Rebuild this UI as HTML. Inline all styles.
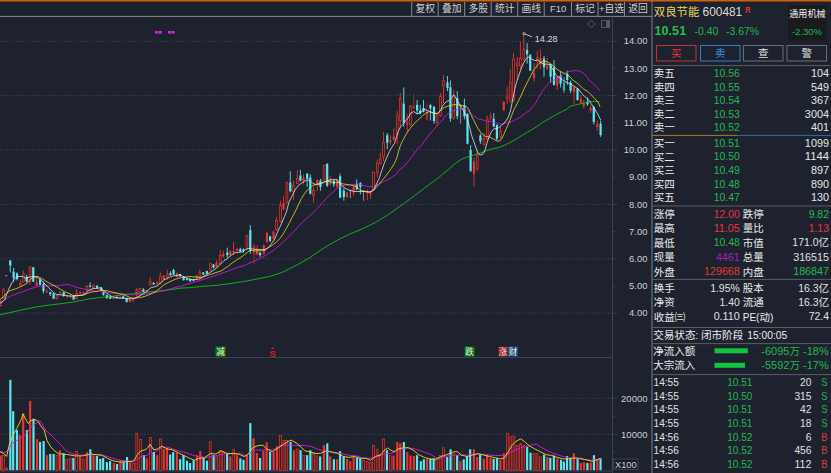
<!DOCTYPE html>
<html><head><meta charset="utf-8"><title>chart</title>
<style>html,body{margin:0;padding:0;background:#1d222e;overflow:hidden}svg{display:block}text{font-family:"Liberation Sans","Noto Sans CJK SC",sans-serif}</style>
</head><body>
<svg width="831" height="473" viewBox="0 0 831 473">
<defs>
<clipPath id="cc"><rect x="0" y="16" width="611.5" height="457"/></clipPath>
</defs>
<rect width="831" height="473" fill="#1d222e"/>
<rect x="0.00" y="0.00" width="831.00" height="1.50" fill="#d2600a"/>
<line x1="0.00" y1="16.40" x2="652.00" y2="16.40" stroke="#8a8a8a" stroke-width="1"/>
<line x1="411.70" y1="2.00" x2="411.70" y2="16.00" stroke="#8a8a8a" stroke-width="1"/>
<line x1="438.20" y1="2.00" x2="438.20" y2="16.00" stroke="#8a8a8a" stroke-width="1"/>
<line x1="464.70" y1="2.00" x2="464.70" y2="16.00" stroke="#8a8a8a" stroke-width="1"/>
<line x1="491.20" y1="2.00" x2="491.20" y2="16.00" stroke="#8a8a8a" stroke-width="1"/>
<line x1="517.70" y1="2.00" x2="517.70" y2="16.00" stroke="#8a8a8a" stroke-width="1"/>
<line x1="544.20" y1="2.00" x2="544.20" y2="16.00" stroke="#8a8a8a" stroke-width="1"/>
<line x1="571.50" y1="2.00" x2="571.50" y2="16.00" stroke="#8a8a8a" stroke-width="1"/>
<line x1="598.00" y1="2.00" x2="598.00" y2="16.00" stroke="#8a8a8a" stroke-width="1"/>
<line x1="624.50" y1="2.00" x2="624.50" y2="16.00" stroke="#8a8a8a" stroke-width="1"/>
<text x="415.45" y="11.80" font-size="9.80" fill="#d0d0d0">复权</text>
<text x="441.95" y="11.80" font-size="9.80" fill="#d0d0d0">叠加</text>
<text x="468.45" y="11.80" font-size="9.80" fill="#d0d0d0">多股</text>
<text x="494.95" y="11.80" font-size="9.80" fill="#d0d0d0">统计</text>
<text x="521.45" y="11.80" font-size="9.80" fill="#d0d0d0">画线</text>
<text x="549.97" y="11.80" font-size="9.50" fill="#d0d0d0" textLength="16.37" lengthAdjust="spacingAndGlyphs" xml:space="preserve">F10</text>
<text x="575.25" y="11.80" font-size="9.80" fill="#d0d0d0">标记</text>
<text x="598.98" y="11.80" font-size="9.50" fill="#d0d0d0" textLength="5.55" lengthAdjust="spacingAndGlyphs" xml:space="preserve">+</text>
<text x="604.52" y="11.80" font-size="9.80" fill="#d0d0d0">自选</text>
<text x="628.25" y="11.80" font-size="9.80" fill="#d0d0d0">返回</text>
<line x1="612.50" y1="16.50" x2="612.50" y2="473.00" stroke="#3c4252" stroke-width="1"/>
<line x1="652.00" y1="1.00" x2="652.00" y2="473.00" stroke="#7a7e86" stroke-width="1"/>
<line x1="0.00" y1="357.50" x2="612.50" y2="357.50" stroke="#3c4252" stroke-width="1"/>
<line x1="0.00" y1="471.00" x2="612.50" y2="471.00" stroke="#3c4252" stroke-width="1"/>
<line x1="0.00" y1="41.30" x2="612.00" y2="41.30" stroke="#4a4e59" stroke-width="1" stroke-dasharray="1 2.2"/>
<line x1="612.50" y1="41.30" x2="617.00" y2="41.30" stroke="#3c4252" stroke-width="1"/>
<text x="623.86" y="44.40" font-size="9.80" fill="#ccd0d8" textLength="23.54" lengthAdjust="spacingAndGlyphs" xml:space="preserve">14.00</text>
<line x1="612.50" y1="68.50" x2="615.00" y2="68.50" stroke="#3c4252" stroke-width="1"/>
<text x="623.86" y="71.60" font-size="9.80" fill="#ccd0d8" textLength="23.54" lengthAdjust="spacingAndGlyphs" xml:space="preserve">13.00</text>
<line x1="0.00" y1="95.60" x2="612.00" y2="95.60" stroke="#4a4e59" stroke-width="1" stroke-dasharray="1 2.2"/>
<line x1="612.50" y1="95.60" x2="617.00" y2="95.60" stroke="#3c4252" stroke-width="1"/>
<text x="623.86" y="98.70" font-size="9.80" fill="#ccd0d8" textLength="23.54" lengthAdjust="spacingAndGlyphs" xml:space="preserve">12.00</text>
<line x1="612.50" y1="122.80" x2="615.00" y2="122.80" stroke="#3c4252" stroke-width="1"/>
<text x="623.86" y="125.90" font-size="9.80" fill="#ccd0d8" textLength="23.54" lengthAdjust="spacingAndGlyphs" xml:space="preserve">11.00</text>
<line x1="0.00" y1="150.00" x2="612.00" y2="150.00" stroke="#4a4e59" stroke-width="1" stroke-dasharray="1 2.2"/>
<line x1="612.50" y1="150.00" x2="617.00" y2="150.00" stroke="#3c4252" stroke-width="1"/>
<text x="623.86" y="153.10" font-size="9.80" fill="#ccd0d8" textLength="23.54" lengthAdjust="spacingAndGlyphs" xml:space="preserve">10.00</text>
<line x1="612.50" y1="177.20" x2="615.00" y2="177.20" stroke="#3c4252" stroke-width="1"/>
<text x="629.09" y="180.30" font-size="9.80" fill="#ccd0d8" textLength="18.31" lengthAdjust="spacingAndGlyphs" xml:space="preserve">9.00</text>
<line x1="0.00" y1="204.40" x2="612.00" y2="204.40" stroke="#4a4e59" stroke-width="1" stroke-dasharray="1 2.2"/>
<line x1="612.50" y1="204.40" x2="617.00" y2="204.40" stroke="#3c4252" stroke-width="1"/>
<text x="629.09" y="207.50" font-size="9.80" fill="#ccd0d8" textLength="18.31" lengthAdjust="spacingAndGlyphs" xml:space="preserve">8.00</text>
<line x1="612.50" y1="231.60" x2="615.00" y2="231.60" stroke="#3c4252" stroke-width="1"/>
<text x="629.09" y="234.70" font-size="9.80" fill="#ccd0d8" textLength="18.31" lengthAdjust="spacingAndGlyphs" xml:space="preserve">7.00</text>
<line x1="0.00" y1="258.80" x2="612.00" y2="258.80" stroke="#4a4e59" stroke-width="1" stroke-dasharray="1 2.2"/>
<line x1="612.50" y1="258.80" x2="617.00" y2="258.80" stroke="#3c4252" stroke-width="1"/>
<text x="629.09" y="261.90" font-size="9.80" fill="#ccd0d8" textLength="18.31" lengthAdjust="spacingAndGlyphs" xml:space="preserve">6.00</text>
<line x1="612.50" y1="286.00" x2="615.00" y2="286.00" stroke="#3c4252" stroke-width="1"/>
<text x="629.09" y="289.10" font-size="9.80" fill="#ccd0d8" textLength="18.31" lengthAdjust="spacingAndGlyphs" xml:space="preserve">5.00</text>
<line x1="0.00" y1="313.20" x2="612.00" y2="313.20" stroke="#4a4e59" stroke-width="1" stroke-dasharray="1 2.2"/>
<line x1="612.50" y1="313.20" x2="617.00" y2="313.20" stroke="#3c4252" stroke-width="1"/>
<text x="629.09" y="316.30" font-size="9.80" fill="#ccd0d8" textLength="18.31" lengthAdjust="spacingAndGlyphs" xml:space="preserve">4.00</text>
<line x1="0.00" y1="398.30" x2="612.00" y2="398.30" stroke="#4a4e59" stroke-width="1" stroke-dasharray="1 2.2"/>
<line x1="612.50" y1="398.30" x2="617.00" y2="398.30" stroke="#3c4252" stroke-width="1"/>
<text x="621.08" y="401.60" font-size="9.50" fill="#ccd0d8" textLength="26.42" lengthAdjust="spacingAndGlyphs" xml:space="preserve">20000</text>
<line x1="0.00" y1="434.30" x2="612.00" y2="434.30" stroke="#4a4e59" stroke-width="1" stroke-dasharray="1 2.2"/>
<line x1="612.50" y1="434.30" x2="617.00" y2="434.30" stroke="#3c4252" stroke-width="1"/>
<text x="621.08" y="437.60" font-size="9.50" fill="#ccd0d8" textLength="26.42" lengthAdjust="spacingAndGlyphs" xml:space="preserve">10000</text>
<line x1="612.50" y1="416.50" x2="614.50" y2="416.50" stroke="#3c4252" stroke-width="1"/>
<line x1="612.50" y1="452.50" x2="614.50" y2="452.50" stroke="#3c4252" stroke-width="1"/>
<rect x="613.5" y="459" width="24.5" height="10.5" fill="#1a1e2a" stroke="#3c4252" stroke-width="1"/>
<text x="615.00" y="467.60" font-size="9.50" fill="#ccd0d8" textLength="21.52" lengthAdjust="spacingAndGlyphs" xml:space="preserve">X100</text>
<path d="M591.3 20.2 L595 24 L591.3 27.8 L587.6 24 Z" fill="none" stroke="#5a5e68" stroke-width="0.9"/>
<rect x="601.5" y="20.5" width="8" height="7" fill="none" stroke="#5a5e68" stroke-width="0.9"/>
<rect x="606.3" y="21" width="3" height="6" fill="#5a5e68"/>
<rect x="155.20" y="31.00" width="3.00" height="2.60" fill="#e422e4"/>
<rect x="158.80" y="31.00" width="3.00" height="2.60" fill="#e422e4"/>
<rect x="168.00" y="31.00" width="3.00" height="2.60" fill="#e422e4"/>
<rect x="171.60" y="31.00" width="3.00" height="2.60" fill="#e422e4"/>
<rect x="215.50" y="346.50" width="10.00" height="10.00" fill="#0a7a0a"/>
<text x="216.20" y="355.10" font-size="8.60" fill="#f0f0f0">减</text>
<rect x="464.60" y="346.50" width="10.00" height="10.00" fill="#0a7a0a"/>
<text x="465.30" y="355.10" font-size="8.60" fill="#f0f0f0">跌</text>
<rect x="498.00" y="346.50" width="10.00" height="10.00" fill="#8a1212"/>
<text x="498.70" y="355.10" font-size="8.60" fill="#f0f0f0">涨</text>
<rect x="508.00" y="346.50" width="10.00" height="10.00" fill="#1a4884"/>
<text x="508.70" y="355.10" font-size="8.60" fill="#f0f0f0">财</text>
<text x="269.6" y="357" font-size="9.2" font-weight="bold" fill="#e81414">S</text>
<rect x="271.30" y="347.30" width="2.20" height="1.60" fill="#e81414"/>
<g clip-path="url(#cc)"><line x1="0.63" y1="299.80" x2="0.63" y2="301.06" stroke="#e6352c" stroke-width="0.9"/>
<line x1="0.63" y1="306.06" x2="0.63" y2="306.69" stroke="#e6352c" stroke-width="0.9"/>
<rect x="-0.30" y="301.43" width="1.85" height="4.26" fill="#2a1e26" stroke="#e6352c" stroke-width="0.75"/>
<line x1="3.50" y1="288.29" x2="3.50" y2="288.79" stroke="#e6352c" stroke-width="0.9"/>
<line x1="3.50" y1="298.55" x2="3.50" y2="299.18" stroke="#e6352c" stroke-width="0.9"/>
<rect x="2.58" y="289.17" width="1.85" height="9.01" fill="#2a1e26" stroke="#e6352c" stroke-width="0.75"/>
<line x1="6.26" y1="275.52" x2="6.26" y2="276.03" stroke="#9a9a9a" stroke-width="0.9"/>
<rect x="5.06" y="275.32" width="2.40" height="0.90" fill="#9a9a9a"/>
<line x1="10.26" y1="260.38" x2="10.26" y2="272.27" stroke="#5ce6ee" stroke-width="0.9"/>
<rect x="9.16" y="260.38" width="2.20" height="5.01" fill="#5ce6ee"/>
<line x1="13.64" y1="267.89" x2="13.64" y2="281.66" stroke="#5ce6ee" stroke-width="0.9"/>
<rect x="12.54" y="271.64" width="2.20" height="6.26" fill="#5ce6ee"/>
<line x1="17.02" y1="272.27" x2="17.02" y2="280.41" stroke="#5ce6ee" stroke-width="0.9"/>
<rect x="15.92" y="273.52" width="2.20" height="5.63" fill="#5ce6ee"/>
<line x1="20.40" y1="279.78" x2="20.40" y2="282.91" stroke="#e6352c" stroke-width="0.9"/>
<line x1="20.40" y1="285.41" x2="20.40" y2="286.04" stroke="#e6352c" stroke-width="0.9"/>
<rect x="19.48" y="283.28" width="1.85" height="1.75" fill="#2a1e26" stroke="#e6352c" stroke-width="0.75"/>
<line x1="23.28" y1="270.39" x2="23.28" y2="273.52" stroke="#e6352c" stroke-width="0.9"/>
<line x1="23.28" y1="282.28" x2="23.28" y2="282.91" stroke="#e6352c" stroke-width="0.9"/>
<rect x="22.35" y="273.90" width="1.85" height="8.01" fill="#2a1e26" stroke="#e6352c" stroke-width="0.75"/>
<line x1="26.66" y1="274.77" x2="26.66" y2="282.28" stroke="#5ce6ee" stroke-width="0.9"/>
<rect x="25.56" y="276.65" width="2.20" height="5.01" fill="#5ce6ee"/>
<line x1="30.04" y1="266.26" x2="30.04" y2="266.64" stroke="#e6352c" stroke-width="0.9"/>
<line x1="30.04" y1="282.28" x2="30.04" y2="284.79" stroke="#e6352c" stroke-width="0.9"/>
<rect x="29.11" y="267.01" width="1.85" height="14.89" fill="#2a1e26" stroke="#e6352c" stroke-width="0.75"/>
<line x1="33.29" y1="267.01" x2="33.29" y2="282.03" stroke="#5ce6ee" stroke-width="0.9"/>
<rect x="32.19" y="267.26" width="2.20" height="14.39" fill="#5ce6ee"/>
<line x1="36.67" y1="276.65" x2="36.67" y2="286.66" stroke="#e6352c" stroke-width="0.9"/>
<rect x="35.57" y="282.28" width="2.20" height="3.75" fill="#e6352c"/>
<line x1="40.05" y1="278.53" x2="40.05" y2="285.41" stroke="#5ce6ee" stroke-width="0.9"/>
<rect x="38.95" y="279.15" width="2.20" height="5.63" fill="#5ce6ee"/>
<line x1="43.43" y1="281.66" x2="43.43" y2="293.55" stroke="#5ce6ee" stroke-width="0.9"/>
<rect x="42.33" y="284.16" width="2.20" height="6.88" fill="#5ce6ee"/>
<line x1="46.81" y1="289.17" x2="46.81" y2="292.92" stroke="#e6352c" stroke-width="0.9"/>
<rect x="45.71" y="291.04" width="2.20" height="1.25" fill="#e6352c"/>
<line x1="50.19" y1="291.67" x2="50.19" y2="296.05" stroke="#5ce6ee" stroke-width="0.9"/>
<rect x="49.09" y="292.30" width="2.20" height="1.88" fill="#5ce6ee"/>
<line x1="53.57" y1="292.92" x2="53.57" y2="299.18" stroke="#5ce6ee" stroke-width="0.9"/>
<rect x="52.47" y="293.55" width="2.20" height="5.01" fill="#5ce6ee"/>
<line x1="56.95" y1="294.80" x2="56.95" y2="295.42" stroke="#e6352c" stroke-width="0.9"/>
<line x1="56.95" y1="299.18" x2="56.95" y2="299.55" stroke="#e6352c" stroke-width="0.9"/>
<rect x="56.02" y="295.80" width="1.85" height="3.00" fill="#2a1e26" stroke="#e6352c" stroke-width="0.75"/>
<line x1="60.08" y1="291.67" x2="60.08" y2="294.17" stroke="#e6352c" stroke-width="0.9"/>
<rect x="58.98" y="291.67" width="2.20" height="1.25" fill="#e6352c"/>
<line x1="63.70" y1="291.67" x2="63.70" y2="296.68" stroke="#5ce6ee" stroke-width="0.9"/>
<rect x="62.60" y="292.30" width="2.20" height="3.75" fill="#5ce6ee"/>
<line x1="67.08" y1="295.05" x2="67.08" y2="297.93" stroke="#e6352c" stroke-width="0.9"/>
<rect x="65.98" y="295.79" width="2.20" height="0.90" fill="#e6352c"/>
<line x1="70.46" y1="294.17" x2="70.46" y2="298.55" stroke="#e6352c" stroke-width="0.9"/>
<rect x="69.36" y="295.79" width="2.20" height="0.90" fill="#e6352c"/>
<line x1="73.59" y1="295.42" x2="73.59" y2="300.06" stroke="#5ce6ee" stroke-width="0.9"/>
<rect x="72.49" y="296.05" width="2.20" height="3.50" fill="#5ce6ee"/>
<line x1="76.60" y1="289.17" x2="76.60" y2="292.92" stroke="#e6352c" stroke-width="0.9"/>
<line x1="76.60" y1="299.18" x2="76.60" y2="299.55" stroke="#e6352c" stroke-width="0.9"/>
<rect x="75.67" y="293.30" width="1.85" height="5.51" fill="#2a1e26" stroke="#e6352c" stroke-width="0.75"/>
<line x1="80.10" y1="291.29" x2="80.10" y2="294.17" stroke="#e6352c" stroke-width="0.9"/>
<rect x="79.00" y="292.30" width="2.20" height="1.00" fill="#e6352c"/>
<line x1="83.23" y1="291.67" x2="83.23" y2="293.55" stroke="#e6352c" stroke-width="0.9"/>
<rect x="82.13" y="292.03" width="2.20" height="0.90" fill="#e6352c"/>
<line x1="86.98" y1="285.04" x2="86.98" y2="286.04" stroke="#e6352c" stroke-width="0.9"/>
<line x1="86.98" y1="291.04" x2="86.98" y2="291.67" stroke="#e6352c" stroke-width="0.9"/>
<rect x="86.06" y="286.41" width="1.85" height="4.26" fill="#2a1e26" stroke="#e6352c" stroke-width="0.75"/>
<line x1="90.11" y1="282.28" x2="90.11" y2="287.29" stroke="#5ce6ee" stroke-width="0.9"/>
<rect x="89.01" y="285.79" width="2.20" height="1.25" fill="#5ce6ee"/>
<line x1="93.49" y1="284.16" x2="93.49" y2="285.41" stroke="#e6352c" stroke-width="0.9"/>
<line x1="93.49" y1="287.91" x2="93.49" y2="288.54" stroke="#e6352c" stroke-width="0.9"/>
<rect x="92.57" y="285.79" width="1.85" height="1.75" fill="#2a1e26" stroke="#e6352c" stroke-width="0.75"/>
<line x1="97.00" y1="285.04" x2="97.00" y2="288.29" stroke="#5ce6ee" stroke-width="0.9"/>
<rect x="95.90" y="285.79" width="2.20" height="2.13" fill="#5ce6ee"/>
<line x1="101.25" y1="286.92" x2="101.25" y2="291.05" stroke="#5ce6ee" stroke-width="0.9"/>
<rect x="100.15" y="287.55" width="2.20" height="3.13" fill="#5ce6ee"/>
<line x1="103.50" y1="291.30" x2="103.50" y2="295.68" stroke="#5ce6ee" stroke-width="0.9"/>
<rect x="102.40" y="291.93" width="2.20" height="3.13" fill="#5ce6ee"/>
<line x1="106.88" y1="294.43" x2="106.88" y2="298.81" stroke="#5ce6ee" stroke-width="0.9"/>
<rect x="105.78" y="295.06" width="2.20" height="3.13" fill="#5ce6ee"/>
<line x1="110.26" y1="295.68" x2="110.26" y2="299.06" stroke="#5ce6ee" stroke-width="0.9"/>
<rect x="109.16" y="296.31" width="2.20" height="2.50" fill="#5ce6ee"/>
<line x1="113.77" y1="296.93" x2="113.77" y2="299.44" stroke="#e6352c" stroke-width="0.9"/>
<rect x="112.67" y="297.56" width="2.20" height="1.25" fill="#e6352c"/>
<line x1="116.90" y1="296.31" x2="116.90" y2="298.81" stroke="#5ce6ee" stroke-width="0.9"/>
<rect x="115.80" y="296.93" width="2.20" height="1.25" fill="#5ce6ee"/>
<line x1="120.03" y1="296.31" x2="120.03" y2="298.56" stroke="#e6352c" stroke-width="0.9"/>
<rect x="118.93" y="296.93" width="2.20" height="1.25" fill="#e6352c"/>
<line x1="123.15" y1="295.68" x2="123.15" y2="298.81" stroke="#5ce6ee" stroke-width="0.9"/>
<rect x="122.05" y="296.31" width="2.20" height="1.88" fill="#5ce6ee"/>
<line x1="126.66" y1="297.56" x2="126.66" y2="302.57" stroke="#5ce6ee" stroke-width="0.9"/>
<rect x="125.56" y="298.19" width="2.20" height="3.75" fill="#5ce6ee"/>
<line x1="129.79" y1="298.81" x2="129.79" y2="302.32" stroke="#e6352c" stroke-width="0.9"/>
<rect x="128.69" y="299.44" width="2.20" height="2.50" fill="#e6352c"/>
<line x1="133.17" y1="299.44" x2="133.17" y2="302.32" stroke="#e6352c" stroke-width="0.9"/>
<rect x="132.07" y="299.42" width="2.20" height="0.90" fill="#e6352c"/>
<line x1="136.67" y1="288.17" x2="136.67" y2="289.42" stroke="#e6352c" stroke-width="0.9"/>
<line x1="136.67" y1="293.18" x2="136.67" y2="296.93" stroke="#e6352c" stroke-width="0.9"/>
<rect x="135.75" y="289.80" width="1.85" height="3.00" fill="#2a1e26" stroke="#e6352c" stroke-width="0.75"/>
<line x1="140.05" y1="287.92" x2="140.05" y2="288.17" stroke="#e6352c" stroke-width="0.9"/>
<line x1="140.05" y1="292.55" x2="140.05" y2="292.80" stroke="#e6352c" stroke-width="0.9"/>
<rect x="139.13" y="288.55" width="1.85" height="3.63" fill="#2a1e26" stroke="#e6352c" stroke-width="0.75"/>
<line x1="143.43" y1="288.17" x2="143.43" y2="292.30" stroke="#5ce6ee" stroke-width="0.9"/>
<rect x="142.33" y="289.42" width="2.20" height="2.50" fill="#5ce6ee"/>
<line x1="146.81" y1="289.80" x2="146.81" y2="292.30" stroke="#e6352c" stroke-width="0.9"/>
<rect x="145.71" y="290.05" width="2.20" height="1.88" fill="#e6352c"/>
<line x1="150.19" y1="276.91" x2="150.19" y2="281.29" stroke="#e6352c" stroke-width="0.9"/>
<line x1="150.19" y1="284.42" x2="150.19" y2="286.30" stroke="#e6352c" stroke-width="0.9"/>
<rect x="149.26" y="281.66" width="1.85" height="2.38" fill="#2a1e26" stroke="#e6352c" stroke-width="0.75"/>
<line x1="153.57" y1="282.29" x2="153.57" y2="284.79" stroke="#5ce6ee" stroke-width="0.9"/>
<rect x="152.47" y="282.79" width="2.20" height="1.63" fill="#5ce6ee"/>
<line x1="157.32" y1="281.29" x2="157.32" y2="284.79" stroke="#e6352c" stroke-width="0.9"/>
<rect x="156.22" y="282.29" width="2.20" height="2.13" fill="#e6352c"/>
<line x1="160.33" y1="272.53" x2="160.33" y2="276.28" stroke="#e6352c" stroke-width="0.9"/>
<line x1="160.33" y1="283.79" x2="160.33" y2="284.42" stroke="#e6352c" stroke-width="0.9"/>
<rect x="159.40" y="276.66" width="1.85" height="6.76" fill="#2a1e26" stroke="#e6352c" stroke-width="0.75"/>
<line x1="163.70" y1="275.03" x2="163.70" y2="280.04" stroke="#e6352c" stroke-width="0.9"/>
<rect x="162.60" y="275.66" width="2.20" height="3.75" fill="#e6352c"/>
<line x1="167.33" y1="269.77" x2="167.33" y2="273.78" stroke="#e6352c" stroke-width="0.9"/>
<line x1="167.33" y1="276.91" x2="167.33" y2="279.41" stroke="#e6352c" stroke-width="0.9"/>
<rect x="166.41" y="274.15" width="1.85" height="2.38" fill="#2a1e26" stroke="#e6352c" stroke-width="0.75"/>
<line x1="170.46" y1="271.28" x2="170.46" y2="275.66" stroke="#5ce6ee" stroke-width="0.9"/>
<rect x="169.36" y="273.15" width="2.20" height="1.88" fill="#5ce6ee"/>
<line x1="173.59" y1="268.77" x2="173.59" y2="275.03" stroke="#5ce6ee" stroke-width="0.9"/>
<rect x="172.49" y="270.03" width="2.20" height="4.38" fill="#5ce6ee"/>
<line x1="176.97" y1="272.53" x2="176.97" y2="277.53" stroke="#e6352c" stroke-width="0.9"/>
<rect x="175.87" y="273.15" width="2.20" height="3.75" fill="#e6352c"/>
<line x1="180.10" y1="273.78" x2="180.10" y2="276.66" stroke="#5ce6ee" stroke-width="0.9"/>
<rect x="179.00" y="274.41" width="2.20" height="1.88" fill="#5ce6ee"/>
<line x1="183.60" y1="276.28" x2="183.60" y2="280.66" stroke="#5ce6ee" stroke-width="0.9"/>
<rect x="182.50" y="276.91" width="2.20" height="3.13" fill="#5ce6ee"/>
<line x1="186.98" y1="278.29" x2="186.98" y2="280.54" stroke="#5ce6ee" stroke-width="0.9"/>
<rect x="185.88" y="278.79" width="2.20" height="1.25" fill="#5ce6ee"/>
<line x1="190.11" y1="278.54" x2="190.11" y2="281.66" stroke="#5ce6ee" stroke-width="0.9"/>
<rect x="189.01" y="279.04" width="2.20" height="2.25" fill="#5ce6ee"/>
<line x1="193.49" y1="278.79" x2="193.49" y2="281.29" stroke="#5ce6ee" stroke-width="0.9"/>
<rect x="192.39" y="279.41" width="2.20" height="1.25" fill="#5ce6ee"/>
<line x1="196.62" y1="275.03" x2="196.62" y2="280.04" stroke="#e6352c" stroke-width="0.9"/>
<rect x="195.52" y="275.66" width="2.20" height="2.50" fill="#e6352c"/>
<line x1="199.87" y1="269.40" x2="199.87" y2="271.90" stroke="#e6352c" stroke-width="0.9"/>
<line x1="199.87" y1="276.91" x2="199.87" y2="278.79" stroke="#e6352c" stroke-width="0.9"/>
<rect x="198.95" y="272.28" width="1.85" height="4.26" fill="#2a1e26" stroke="#e6352c" stroke-width="0.75"/>
<line x1="203.25" y1="272.03" x2="203.25" y2="275.03" stroke="#5ce6ee" stroke-width="0.9"/>
<rect x="202.15" y="272.53" width="2.20" height="1.88" fill="#5ce6ee"/>
<line x1="206.88" y1="270.57" x2="206.88" y2="274.08" stroke="#5ce6ee" stroke-width="0.9"/>
<rect x="205.78" y="271.07" width="2.20" height="2.50" fill="#5ce6ee"/>
<line x1="210.39" y1="262.69" x2="210.39" y2="263.31" stroke="#e6352c" stroke-width="0.9"/>
<line x1="210.39" y1="270.20" x2="210.39" y2="270.82" stroke="#e6352c" stroke-width="0.9"/>
<rect x="209.46" y="263.69" width="1.85" height="6.13" fill="#2a1e26" stroke="#e6352c" stroke-width="0.75"/>
<line x1="213.52" y1="263.94" x2="213.52" y2="268.32" stroke="#5ce6ee" stroke-width="0.9"/>
<rect x="212.42" y="264.57" width="2.20" height="3.13" fill="#5ce6ee"/>
<line x1="216.52" y1="260.19" x2="216.52" y2="267.69" stroke="#e6352c" stroke-width="0.9"/>
<rect x="215.42" y="262.69" width="2.20" height="4.38" fill="#e6352c"/>
<line x1="220.28" y1="250.17" x2="220.28" y2="255.18" stroke="#e6352c" stroke-width="0.9"/>
<line x1="220.28" y1="263.94" x2="220.28" y2="264.57" stroke="#e6352c" stroke-width="0.9"/>
<rect x="219.35" y="255.55" width="1.85" height="8.01" fill="#2a1e26" stroke="#e6352c" stroke-width="0.75"/>
<line x1="223.28" y1="250.80" x2="223.28" y2="257.68" stroke="#e6352c" stroke-width="0.9"/>
<rect x="222.18" y="253.93" width="2.20" height="2.50" fill="#e6352c"/>
<line x1="227.28" y1="247.67" x2="227.28" y2="257.68" stroke="#5ce6ee" stroke-width="0.9"/>
<rect x="226.18" y="252.68" width="2.20" height="2.50" fill="#5ce6ee"/>
<line x1="230.29" y1="250.17" x2="230.29" y2="255.80" stroke="#e6352c" stroke-width="0.9"/>
<rect x="229.19" y="251.42" width="2.20" height="3.75" fill="#e6352c"/>
<line x1="233.54" y1="242.04" x2="233.54" y2="255.18" stroke="#e6352c" stroke-width="0.9"/>
<rect x="232.44" y="250.80" width="2.20" height="1.88" fill="#e6352c"/>
<line x1="237.17" y1="247.67" x2="237.17" y2="251.42" stroke="#e6352c" stroke-width="0.9"/>
<rect x="236.07" y="248.92" width="2.20" height="1.88" fill="#e6352c"/>
<line x1="240.30" y1="247.67" x2="240.30" y2="252.05" stroke="#5ce6ee" stroke-width="0.9"/>
<rect x="239.20" y="248.92" width="2.20" height="2.50" fill="#5ce6ee"/>
<line x1="243.43" y1="248.30" x2="243.43" y2="252.68" stroke="#5ce6ee" stroke-width="0.9"/>
<rect x="242.33" y="249.55" width="2.20" height="1.50" fill="#5ce6ee"/>
<line x1="246.93" y1="248.92" x2="246.93" y2="249.55" stroke="#e6352c" stroke-width="0.9"/>
<rect x="246.01" y="235.53" width="1.85" height="13.02" fill="#2a1e26" stroke="#e6352c" stroke-width="0.75"/>
<line x1="250.31" y1="225.14" x2="250.31" y2="253.93" stroke="#5ce6ee" stroke-width="0.9"/>
<rect x="249.21" y="230.15" width="2.20" height="20.65" fill="#5ce6ee"/>
<line x1="254.07" y1="244.29" x2="254.07" y2="263.94" stroke="#a82c2c" stroke-width="0.9"/>
<rect x="252.97" y="245.17" width="2.20" height="9.39" fill="#a82c2c"/>
<line x1="257.20" y1="245.17" x2="257.20" y2="255.18" stroke="#e6352c" stroke-width="0.9"/>
<rect x="256.10" y="248.92" width="2.20" height="5.63" fill="#e6352c"/>
<line x1="260.08" y1="252.05" x2="260.08" y2="256.81" stroke="#5ce6ee" stroke-width="0.9"/>
<rect x="258.98" y="252.68" width="2.20" height="2.50" fill="#5ce6ee"/>
<line x1="263.83" y1="244.54" x2="263.83" y2="255.18" stroke="#e6352c" stroke-width="0.9"/>
<rect x="262.73" y="245.17" width="2.20" height="8.14" fill="#e6352c"/>
<line x1="266.96" y1="232.03" x2="266.96" y2="243.29" stroke="#e6352c" stroke-width="0.9"/>
<rect x="265.86" y="232.65" width="2.20" height="9.39" fill="#e6352c"/>
<line x1="270.09" y1="235.78" x2="270.09" y2="242.04" stroke="#5ce6ee" stroke-width="0.9"/>
<rect x="268.99" y="236.41" width="2.20" height="4.38" fill="#5ce6ee"/>
<line x1="273.59" y1="230.77" x2="273.59" y2="240.16" stroke="#e6352c" stroke-width="0.9"/>
<rect x="272.49" y="231.40" width="2.20" height="7.51" fill="#e6352c"/>
<line x1="276.50" y1="217.00" x2="276.50" y2="220.10" stroke="#e6352c" stroke-width="0.9"/>
<line x1="276.50" y1="230.10" x2="276.50" y2="230.75" stroke="#e6352c" stroke-width="0.9"/>
<rect x="275.57" y="220.47" width="1.85" height="9.25" fill="#2a1e26" stroke="#e6352c" stroke-width="0.75"/>
<line x1="280.60" y1="200.60" x2="280.60" y2="205.00" stroke="#e6352c" stroke-width="0.9"/>
<line x1="280.60" y1="222.00" x2="280.60" y2="222.60" stroke="#e6352c" stroke-width="0.9"/>
<rect x="279.68" y="205.38" width="1.85" height="16.25" fill="#2a1e26" stroke="#e6352c" stroke-width="0.75"/>
<line x1="283.52" y1="196.30" x2="283.52" y2="210.06" stroke="#e6352c" stroke-width="0.9"/>
<rect x="282.42" y="203.18" width="2.20" height="6.26" fill="#e6352c"/>
<line x1="286.90" y1="203.18" x2="286.90" y2="203.80" stroke="#e6352c" stroke-width="0.9"/>
<rect x="285.97" y="182.28" width="1.85" height="20.53" fill="#2a1e26" stroke="#e6352c" stroke-width="0.75"/>
<line x1="290.28" y1="171.26" x2="290.28" y2="192.54" stroke="#5ce6ee" stroke-width="0.9"/>
<rect x="289.18" y="182.53" width="2.20" height="8.76" fill="#5ce6ee"/>
<line x1="293.53" y1="180.65" x2="293.53" y2="185.03" stroke="#e6352c" stroke-width="0.9"/>
<line x1="293.53" y1="191.91" x2="293.53" y2="200.05" stroke="#e6352c" stroke-width="0.9"/>
<rect x="292.60" y="185.41" width="1.85" height="6.13" fill="#2a1e26" stroke="#e6352c" stroke-width="0.75"/>
<line x1="297.28" y1="170.01" x2="297.28" y2="178.15" stroke="#e6352c" stroke-width="0.9"/>
<line x1="297.28" y1="183.78" x2="297.28" y2="184.41" stroke="#e6352c" stroke-width="0.9"/>
<rect x="296.36" y="178.52" width="1.85" height="4.88" fill="#2a1e26" stroke="#e6352c" stroke-width="0.75"/>
<line x1="300.41" y1="170.01" x2="300.41" y2="181.28" stroke="#5ce6ee" stroke-width="0.9"/>
<rect x="299.31" y="175.64" width="2.20" height="5.01" fill="#5ce6ee"/>
<line x1="303.54" y1="174.39" x2="303.54" y2="184.41" stroke="#e6352c" stroke-width="0.9"/>
<rect x="302.44" y="177.52" width="2.20" height="3.75" fill="#e6352c"/>
<line x1="307.17" y1="173.14" x2="307.17" y2="186.91" stroke="#5ce6ee" stroke-width="0.9"/>
<rect x="306.07" y="173.77" width="2.20" height="5.01" fill="#5ce6ee"/>
<line x1="310.30" y1="174.39" x2="310.30" y2="194.42" stroke="#5ce6ee" stroke-width="0.9"/>
<rect x="309.20" y="177.52" width="2.20" height="16.27" fill="#5ce6ee"/>
<line x1="313.55" y1="186.91" x2="313.55" y2="190.04" stroke="#e6352c" stroke-width="0.9"/>
<line x1="313.55" y1="195.67" x2="313.55" y2="202.55" stroke="#e6352c" stroke-width="0.9"/>
<rect x="312.63" y="190.41" width="1.85" height="4.88" fill="#2a1e26" stroke="#e6352c" stroke-width="0.75"/>
<line x1="317.31" y1="179.40" x2="317.31" y2="190.66" stroke="#e6352c" stroke-width="0.9"/>
<rect x="316.21" y="180.03" width="2.20" height="3.75" fill="#e6352c"/>
<line x1="320.44" y1="178.77" x2="320.44" y2="190.66" stroke="#5ce6ee" stroke-width="0.9"/>
<rect x="319.34" y="180.65" width="2.20" height="6.26" fill="#5ce6ee"/>
<line x1="324.07" y1="164.76" x2="324.07" y2="165.01" stroke="#e6352c" stroke-width="0.9"/>
<line x1="324.07" y1="180.65" x2="324.07" y2="181.28" stroke="#e6352c" stroke-width="0.9"/>
<rect x="323.14" y="165.38" width="1.85" height="14.89" fill="#2a1e26" stroke="#e6352c" stroke-width="0.75"/>
<line x1="327.20" y1="163.50" x2="327.20" y2="186.91" stroke="#5ce6ee" stroke-width="0.9"/>
<rect x="326.10" y="163.75" width="2.20" height="21.90" fill="#5ce6ee"/>
<line x1="330.33" y1="176.27" x2="330.33" y2="185.66" stroke="#e6352c" stroke-width="0.9"/>
<rect x="329.23" y="178.77" width="2.20" height="5.01" fill="#e6352c"/>
<line x1="333.83" y1="180.03" x2="333.83" y2="186.91" stroke="#5ce6ee" stroke-width="0.9"/>
<rect x="332.73" y="180.65" width="2.20" height="3.75" fill="#5ce6ee"/>
<line x1="337.21" y1="178.77" x2="337.21" y2="188.16" stroke="#e6352c" stroke-width="0.9"/>
<rect x="336.11" y="179.40" width="2.20" height="7.51" fill="#e6352c"/>
<line x1="340.09" y1="173.52" x2="340.09" y2="198.17" stroke="#5ce6ee" stroke-width="0.9"/>
<rect x="338.99" y="176.27" width="2.20" height="21.28" fill="#5ce6ee"/>
<line x1="343.84" y1="188.16" x2="343.84" y2="200.68" stroke="#5ce6ee" stroke-width="0.9"/>
<rect x="342.74" y="190.66" width="2.20" height="6.26" fill="#5ce6ee"/>
<line x1="346.97" y1="191.91" x2="346.97" y2="198.17" stroke="#e6352c" stroke-width="0.9"/>
<rect x="345.87" y="192.54" width="2.20" height="4.38" fill="#e6352c"/>
<line x1="350.35" y1="190.04" x2="350.35" y2="198.17" stroke="#9a9a9a" stroke-width="0.9"/>
<rect x="349.15" y="189.90" width="2.40" height="0.90" fill="#9a9a9a"/>
<line x1="353.60" y1="185.66" x2="353.60" y2="196.30" stroke="#e6352c" stroke-width="0.9"/>
<rect x="352.50" y="186.28" width="2.20" height="6.26" fill="#e6352c"/>
<line x1="356.73" y1="179.40" x2="356.73" y2="190.04" stroke="#5ce6ee" stroke-width="0.9"/>
<rect x="355.63" y="183.78" width="2.20" height="5.63" fill="#5ce6ee"/>
<line x1="360.36" y1="181.90" x2="360.36" y2="194.42" stroke="#5ce6ee" stroke-width="0.9"/>
<rect x="359.26" y="183.15" width="2.20" height="3.75" fill="#5ce6ee"/>
<line x1="363.49" y1="190.66" x2="363.49" y2="200.68" stroke="#9a9a9a" stroke-width="0.9"/>
<rect x="362.29" y="190.53" width="2.40" height="0.90" fill="#9a9a9a"/>
<line x1="367.37" y1="189.41" x2="367.37" y2="200.05" stroke="#e6352c" stroke-width="0.9"/>
<rect x="366.27" y="191.90" width="2.20" height="0.90" fill="#e6352c"/>
<line x1="370.50" y1="191.29" x2="370.50" y2="198.80" stroke="#e6352c" stroke-width="0.9"/>
<rect x="369.40" y="191.91" width="2.20" height="2.50" fill="#e6352c"/>
<line x1="373.50" y1="171.50" x2="373.50" y2="171.90" stroke="#e6352c" stroke-width="0.9"/>
<rect x="372.57" y="172.28" width="1.85" height="17.35" fill="#2a1e26" stroke="#e6352c" stroke-width="0.75"/>
<line x1="377.27" y1="159.68" x2="377.27" y2="162.80" stroke="#e6352c" stroke-width="0.9"/>
<line x1="377.27" y1="172.82" x2="377.27" y2="177.20" stroke="#e6352c" stroke-width="0.9"/>
<rect x="376.35" y="163.18" width="1.85" height="9.26" fill="#2a1e26" stroke="#e6352c" stroke-width="0.75"/>
<line x1="380.28" y1="152.79" x2="380.28" y2="158.42" stroke="#e6352c" stroke-width="0.9"/>
<line x1="380.28" y1="164.06" x2="380.28" y2="164.68" stroke="#e6352c" stroke-width="0.9"/>
<rect x="379.35" y="158.80" width="1.85" height="4.88" fill="#2a1e26" stroke="#e6352c" stroke-width="0.75"/>
<line x1="383.53" y1="132.14" x2="383.53" y2="142.15" stroke="#e6352c" stroke-width="0.9"/>
<line x1="383.53" y1="157.17" x2="383.53" y2="160.93" stroke="#e6352c" stroke-width="0.9"/>
<rect x="382.60" y="142.53" width="1.85" height="14.27" fill="#2a1e26" stroke="#e6352c" stroke-width="0.75"/>
<line x1="387.28" y1="133.02" x2="387.28" y2="149.04" stroke="#5ce6ee" stroke-width="0.9"/>
<rect x="386.18" y="135.27" width="2.20" height="7.51" fill="#5ce6ee"/>
<line x1="390.41" y1="135.27" x2="390.41" y2="144.66" stroke="#e6352c" stroke-width="0.9"/>
<rect x="389.31" y="140.28" width="2.20" height="1.88" fill="#e6352c"/>
<line x1="393.79" y1="128.39" x2="393.79" y2="140.28" stroke="#e6352c" stroke-width="0.9"/>
<rect x="392.69" y="136.52" width="2.20" height="3.13" fill="#e6352c"/>
<line x1="397.20" y1="111.00" x2="397.20" y2="115.50" stroke="#e6352c" stroke-width="0.9"/>
<line x1="397.20" y1="135.25" x2="397.20" y2="144.60" stroke="#e6352c" stroke-width="0.9"/>
<rect x="396.27" y="115.88" width="1.85" height="19.00" fill="#2a1e26" stroke="#e6352c" stroke-width="0.75"/>
<line x1="400.25" y1="93.00" x2="400.25" y2="98.00" stroke="#e6352c" stroke-width="0.9"/>
<line x1="400.25" y1="121.10" x2="400.25" y2="126.75" stroke="#e6352c" stroke-width="0.9"/>
<rect x="399.32" y="98.38" width="1.85" height="22.35" fill="#2a1e26" stroke="#e6352c" stroke-width="0.75"/>
<line x1="403.75" y1="87.40" x2="403.75" y2="126.75" stroke="#5ce6ee" stroke-width="0.9"/>
<rect x="402.65" y="103.60" width="2.20" height="19.40" fill="#5ce6ee"/>
<line x1="407.25" y1="114.25" x2="407.25" y2="132.00" stroke="#e6352c" stroke-width="0.9"/>
<rect x="406.15" y="122.75" width="2.20" height="1.85" fill="#e6352c"/>
<line x1="410.40" y1="104.90" x2="410.40" y2="106.10" stroke="#e6352c" stroke-width="0.9"/>
<line x1="410.40" y1="124.90" x2="410.40" y2="126.10" stroke="#e6352c" stroke-width="0.9"/>
<rect x="409.47" y="106.47" width="1.85" height="18.05" fill="#2a1e26" stroke="#e6352c" stroke-width="0.75"/>
<line x1="413.75" y1="94.25" x2="413.75" y2="109.25" stroke="#a82c2c" stroke-width="0.9"/>
<rect x="412.65" y="105.50" width="2.20" height="3.10" fill="#a82c2c"/>
<line x1="417.10" y1="99.90" x2="417.10" y2="114.25" stroke="#5ce6ee" stroke-width="0.9"/>
<rect x="416.00" y="104.90" width="2.20" height="5.60" fill="#5ce6ee"/>
<line x1="420.25" y1="104.90" x2="420.25" y2="114.25" stroke="#5ce6ee" stroke-width="0.9"/>
<rect x="419.15" y="110.50" width="2.20" height="3.10" fill="#5ce6ee"/>
<line x1="423.50" y1="99.90" x2="423.50" y2="112.40" stroke="#5ce6ee" stroke-width="0.9"/>
<rect x="422.40" y="108.00" width="2.20" height="3.75" fill="#5ce6ee"/>
<line x1="426.90" y1="103.00" x2="426.90" y2="120.50" stroke="#a82c2c" stroke-width="0.9"/>
<rect x="425.80" y="111.75" width="2.20" height="8.15" fill="#a82c2c"/>
<line x1="430.40" y1="104.25" x2="430.40" y2="120.50" stroke="#5ce6ee" stroke-width="0.9"/>
<rect x="429.30" y="104.90" width="2.20" height="3.70" fill="#5ce6ee"/>
<line x1="434.00" y1="106.10" x2="434.00" y2="123.60" stroke="#5ce6ee" stroke-width="0.9"/>
<rect x="432.90" y="106.75" width="2.20" height="14.35" fill="#5ce6ee"/>
<line x1="437.10" y1="113.60" x2="437.10" y2="114.90" stroke="#e6352c" stroke-width="0.9"/>
<line x1="437.10" y1="123.00" x2="437.10" y2="126.00" stroke="#e6352c" stroke-width="0.9"/>
<rect x="436.18" y="115.28" width="1.85" height="7.35" fill="#2a1e26" stroke="#e6352c" stroke-width="0.75"/>
<line x1="440.60" y1="93.00" x2="440.60" y2="96.10" stroke="#e6352c" stroke-width="0.9"/>
<line x1="440.60" y1="116.10" x2="440.60" y2="116.75" stroke="#e6352c" stroke-width="0.9"/>
<rect x="439.68" y="96.47" width="1.85" height="19.25" fill="#2a1e26" stroke="#e6352c" stroke-width="0.75"/>
<line x1="443.50" y1="74.90" x2="443.50" y2="80.50" stroke="#e6352c" stroke-width="0.9"/>
<line x1="443.50" y1="86.10" x2="443.50" y2="103.00" stroke="#e6352c" stroke-width="0.9"/>
<rect x="442.57" y="80.88" width="1.85" height="4.85" fill="#2a1e26" stroke="#e6352c" stroke-width="0.75"/>
<line x1="447.50" y1="76.10" x2="447.50" y2="91.10" stroke="#5ce6ee" stroke-width="0.9"/>
<rect x="446.40" y="82.40" width="2.20" height="5.60" fill="#5ce6ee"/>
<line x1="450.40" y1="80.50" x2="450.40" y2="121.75" stroke="#5ce6ee" stroke-width="0.9"/>
<rect x="449.30" y="87.40" width="2.20" height="31.20" fill="#5ce6ee"/>
<line x1="453.75" y1="89.90" x2="453.75" y2="94.90" stroke="#e6352c" stroke-width="0.9"/>
<line x1="453.75" y1="118.60" x2="453.75" y2="119.90" stroke="#e6352c" stroke-width="0.9"/>
<rect x="452.82" y="95.28" width="1.85" height="22.95" fill="#2a1e26" stroke="#e6352c" stroke-width="0.75"/>
<line x1="457.25" y1="91.10" x2="457.25" y2="119.25" stroke="#5ce6ee" stroke-width="0.9"/>
<rect x="456.15" y="98.00" width="2.20" height="18.10" fill="#5ce6ee"/>
<line x1="460.60" y1="105.50" x2="460.60" y2="123.60" stroke="#9a9a9a" stroke-width="0.9"/>
<rect x="459.40" y="105.45" width="2.40" height="0.90" fill="#9a9a9a"/>
<line x1="464.40" y1="98.60" x2="464.40" y2="119.40" stroke="#5ce6ee" stroke-width="0.9"/>
<rect x="463.30" y="105.50" width="2.20" height="10.75" fill="#5ce6ee"/>
<line x1="467.50" y1="113.60" x2="467.50" y2="144.40" stroke="#5ce6ee" stroke-width="0.9"/>
<rect x="466.40" y="113.60" width="2.20" height="30.15" fill="#5ce6ee"/>
<line x1="470.60" y1="145.00" x2="470.60" y2="171.30" stroke="#5ce6ee" stroke-width="0.9"/>
<rect x="469.50" y="150.00" width="2.20" height="21.30" fill="#5ce6ee"/>
<line x1="474.00" y1="158.00" x2="474.00" y2="187.00" stroke="#e6352c" stroke-width="0.9"/>
<rect x="472.90" y="161.25" width="2.20" height="12.50" fill="#e6352c"/>
<line x1="477.25" y1="150.00" x2="477.25" y2="155.00" stroke="#e6352c" stroke-width="0.9"/>
<line x1="477.25" y1="169.40" x2="477.25" y2="171.00" stroke="#e6352c" stroke-width="0.9"/>
<rect x="476.32" y="155.38" width="1.85" height="13.65" fill="#2a1e26" stroke="#e6352c" stroke-width="0.75"/>
<line x1="480.40" y1="133.75" x2="480.40" y2="143.75" stroke="#5ce6ee" stroke-width="0.9"/>
<rect x="479.30" y="135.60" width="2.20" height="5.65" fill="#5ce6ee"/>
<line x1="484.00" y1="133.10" x2="484.00" y2="138.10" stroke="#e6352c" stroke-width="0.9"/>
<line x1="484.00" y1="145.00" x2="484.00" y2="145.60" stroke="#e6352c" stroke-width="0.9"/>
<rect x="483.07" y="138.47" width="1.85" height="6.15" fill="#2a1e26" stroke="#e6352c" stroke-width="0.75"/>
<line x1="487.25" y1="115.60" x2="487.25" y2="118.75" stroke="#e6352c" stroke-width="0.9"/>
<line x1="487.25" y1="139.40" x2="487.25" y2="140.00" stroke="#e6352c" stroke-width="0.9"/>
<rect x="486.32" y="119.12" width="1.85" height="19.90" fill="#2a1e26" stroke="#e6352c" stroke-width="0.75"/>
<line x1="490.60" y1="111.25" x2="490.60" y2="120.00" stroke="#a82c2c" stroke-width="0.9"/>
<rect x="489.50" y="115.00" width="2.20" height="3.75" fill="#a82c2c"/>
<line x1="493.75" y1="113.10" x2="493.75" y2="127.50" stroke="#5ce6ee" stroke-width="0.9"/>
<rect x="492.65" y="118.75" width="2.20" height="7.50" fill="#5ce6ee"/>
<line x1="496.90" y1="124.40" x2="496.90" y2="140.60" stroke="#5ce6ee" stroke-width="0.9"/>
<rect x="495.80" y="125.00" width="2.20" height="13.75" fill="#5ce6ee"/>
<line x1="500.60" y1="126.90" x2="500.60" y2="131.25" stroke="#e6352c" stroke-width="0.9"/>
<line x1="500.60" y1="136.90" x2="500.60" y2="138.75" stroke="#e6352c" stroke-width="0.9"/>
<rect x="499.68" y="131.62" width="1.85" height="4.90" fill="#2a1e26" stroke="#e6352c" stroke-width="0.75"/>
<line x1="503.75" y1="101.25" x2="503.75" y2="110.60" stroke="#e6352c" stroke-width="0.9"/>
<rect x="502.65" y="101.90" width="2.20" height="8.60" fill="#e6352c"/>
<line x1="507.10" y1="86.90" x2="507.10" y2="95.60" stroke="#e6352c" stroke-width="0.9"/>
<line x1="507.10" y1="98.75" x2="507.10" y2="103.75" stroke="#e6352c" stroke-width="0.9"/>
<rect x="506.18" y="95.97" width="1.85" height="2.40" fill="#2a1e26" stroke="#e6352c" stroke-width="0.75"/>
<line x1="510.25" y1="68.75" x2="510.25" y2="81.90" stroke="#e6352c" stroke-width="0.9"/>
<line x1="510.25" y1="101.90" x2="510.25" y2="102.50" stroke="#e6352c" stroke-width="0.9"/>
<rect x="509.32" y="82.28" width="1.85" height="19.25" fill="#2a1e26" stroke="#e6352c" stroke-width="0.75"/>
<line x1="513.50" y1="53.00" x2="513.50" y2="58.75" stroke="#e6352c" stroke-width="0.9"/>
<line x1="513.50" y1="100.60" x2="513.50" y2="101.90" stroke="#e6352c" stroke-width="0.9"/>
<rect x="512.58" y="59.12" width="1.85" height="41.10" fill="#2a1e26" stroke="#e6352c" stroke-width="0.75"/>
<line x1="517.25" y1="56.80" x2="517.25" y2="62.40" stroke="#e6352c" stroke-width="0.9"/>
<line x1="517.25" y1="66.10" x2="517.25" y2="80.00" stroke="#e6352c" stroke-width="0.9"/>
<rect x="516.33" y="62.77" width="1.85" height="2.95" fill="#2a1e26" stroke="#e6352c" stroke-width="0.75"/>
<line x1="520.40" y1="41.75" x2="520.40" y2="58.00" stroke="#e6352c" stroke-width="0.9"/>
<line x1="520.40" y1="66.10" x2="520.40" y2="69.25" stroke="#e6352c" stroke-width="0.9"/>
<rect x="519.48" y="58.38" width="1.85" height="7.35" fill="#2a1e26" stroke="#e6352c" stroke-width="0.75"/>
<line x1="523.75" y1="34.25" x2="523.75" y2="49.25" stroke="#e6352c" stroke-width="0.9"/>
<line x1="523.75" y1="59.90" x2="523.75" y2="60.50" stroke="#e6352c" stroke-width="0.9"/>
<rect x="522.83" y="49.62" width="1.85" height="9.90" fill="#2a1e26" stroke="#e6352c" stroke-width="0.75"/>
<line x1="527.10" y1="43.00" x2="527.10" y2="63.60" stroke="#5ce6ee" stroke-width="0.9"/>
<rect x="526.00" y="49.90" width="2.20" height="4.35" fill="#5ce6ee"/>
<line x1="530.25" y1="54.25" x2="530.25" y2="71.10" stroke="#5ce6ee" stroke-width="0.9"/>
<rect x="529.15" y="54.90" width="2.20" height="15.60" fill="#5ce6ee"/>
<line x1="534.00" y1="63.00" x2="534.00" y2="81.75" stroke="#e6352c" stroke-width="0.9"/>
<rect x="532.90" y="73.00" width="2.20" height="5.00" fill="#e6352c"/>
<line x1="537.25" y1="51.10" x2="537.25" y2="57.40" stroke="#e6352c" stroke-width="0.9"/>
<line x1="537.25" y1="61.10" x2="537.25" y2="69.25" stroke="#e6352c" stroke-width="0.9"/>
<rect x="536.33" y="57.77" width="1.85" height="2.95" fill="#2a1e26" stroke="#e6352c" stroke-width="0.75"/>
<line x1="540.40" y1="49.25" x2="540.40" y2="69.25" stroke="#e6352c" stroke-width="0.9"/>
<rect x="539.30" y="58.00" width="2.20" height="6.25" fill="#e6352c"/>
<line x1="544.00" y1="56.10" x2="544.00" y2="76.75" stroke="#5ce6ee" stroke-width="0.9"/>
<rect x="542.90" y="58.60" width="2.20" height="8.80" fill="#5ce6ee"/>
<line x1="547.10" y1="57.40" x2="547.10" y2="69.90" stroke="#e6352c" stroke-width="0.9"/>
<rect x="546.00" y="66.10" width="2.20" height="2.50" fill="#e6352c"/>
<line x1="550.60" y1="63.60" x2="550.60" y2="82.40" stroke="#5ce6ee" stroke-width="0.9"/>
<rect x="549.50" y="64.25" width="2.20" height="12.50" fill="#5ce6ee"/>
<line x1="554.00" y1="59.90" x2="554.00" y2="85.50" stroke="#5ce6ee" stroke-width="0.9"/>
<rect x="552.90" y="67.40" width="2.20" height="17.50" fill="#5ce6ee"/>
<line x1="557.25" y1="76.25" x2="557.25" y2="90.00" stroke="#e6352c" stroke-width="0.9"/>
<rect x="556.15" y="76.90" width="2.20" height="8.70" fill="#e6352c"/>
<line x1="560.60" y1="71.90" x2="560.60" y2="87.50" stroke="#5ce6ee" stroke-width="0.9"/>
<rect x="559.50" y="75.60" width="2.20" height="8.15" fill="#5ce6ee"/>
<line x1="564.00" y1="76.90" x2="564.00" y2="93.10" stroke="#3aa8b4" stroke-width="0.9"/>
<rect x="562.90" y="82.50" width="2.20" height="8.10" fill="#3aa8b4"/>
<line x1="567.25" y1="70.60" x2="567.25" y2="85.00" stroke="#5ce6ee" stroke-width="0.9"/>
<rect x="566.15" y="73.75" width="2.20" height="6.25" fill="#5ce6ee"/>
<line x1="570.60" y1="80.60" x2="570.60" y2="93.00" stroke="#5ce6ee" stroke-width="0.9"/>
<rect x="569.50" y="82.50" width="2.20" height="8.10" fill="#5ce6ee"/>
<line x1="574.00" y1="86.25" x2="574.00" y2="103.75" stroke="#e6352c" stroke-width="0.9"/>
<rect x="572.90" y="86.90" width="2.20" height="5.00" fill="#e6352c"/>
<line x1="577.50" y1="88.10" x2="577.50" y2="100.60" stroke="#5ce6ee" stroke-width="0.9"/>
<rect x="576.40" y="88.75" width="2.20" height="11.25" fill="#5ce6ee"/>
<line x1="580.90" y1="95.00" x2="580.90" y2="103.75" stroke="#e6352c" stroke-width="0.9"/>
<rect x="579.80" y="98.75" width="2.20" height="3.75" fill="#e6352c"/>
<line x1="583.75" y1="100.00" x2="583.75" y2="108.75" stroke="#e6352c" stroke-width="0.9"/>
<rect x="582.65" y="103.75" width="2.20" height="2.50" fill="#e6352c"/>
<line x1="587.50" y1="97.50" x2="587.50" y2="105.60" stroke="#5ce6ee" stroke-width="0.9"/>
<rect x="586.40" y="101.90" width="2.20" height="2.50" fill="#5ce6ee"/>
<line x1="590.60" y1="105.00" x2="590.60" y2="113.10" stroke="#e6352c" stroke-width="0.9"/>
<rect x="589.50" y="108.10" width="2.20" height="2.50" fill="#e6352c"/>
<line x1="593.75" y1="106.25" x2="593.75" y2="124.40" stroke="#5ce6ee" stroke-width="0.9"/>
<rect x="592.65" y="106.90" width="2.20" height="15.00" fill="#5ce6ee"/>
<line x1="597.25" y1="120.60" x2="597.25" y2="130.60" stroke="#e6352c" stroke-width="0.9"/>
<rect x="596.15" y="124.40" width="2.20" height="2.50" fill="#e6352c"/>
<line x1="600.60" y1="120.60" x2="600.60" y2="136.90" stroke="#5ce6ee" stroke-width="0.9"/>
<rect x="599.50" y="123.75" width="2.20" height="11.25" fill="#5ce6ee"/>
<path d="M0.0 314.8 L12.5 312.0 L25.0 309.2 L37.5 306.7 L50.0 305.0 L62.5 303.5 L75.0 301.7 L87.5 299.2 L100.0 297.5 L106.2 296.9 L112.5 296.3 L118.8 295.3 L125.0 294.4 L131.3 294.0 L137.5 293.5 L143.8 292.8 L150.0 291.9 L156.3 291.3 L162.5 290.6 L168.8 289.8 L175.0 289.0 L181.3 288.1 L187.5 287.8 L193.8 287.3 L200.0 286.5 L204.0 286.3 L220.0 285.0 L232.0 283.3 L245.0 281.3 L257.0 279.0 L270.0 276.3 L282.7 272.2 L295.0 266.0 L307.7 259.0 L320.0 250.5 L328.0 245.5 L337.7 240.0 L350.0 233.9 L362.7 228.8 L375.2 222.6 L387.7 215.0 L400.0 206.3 L408.0 200.5 L420.0 191.5 L430.0 184.0 L438.5 177.8 L444.0 173.0 L449.4 168.8 L455.0 163.8 L461.3 159.4 L467.5 156.9 L473.8 155.1 L480.0 153.2 L486.3 150.7 L492.6 148.8 L498.8 147.5 L505.1 145.0 L511.3 141.9 L517.6 138.2 L523.8 134.4 L530.1 130.7 L536.4 126.9 L542.6 122.5 L549.0 118.8 L557.6 113.8 L562.6 111.3 L567.6 108.8 L570.1 106.3 L575.1 105.0 L580.1 103.8 L585.1 102.8 L590.1 101.5 L595.1 101.3 L599.5 101.9" fill="none" stroke="#14d214" stroke-width="0.8" stroke-linejoin="round"/>
<path d="M0.0 303.3 L3.1 301.1 L6.3 298.6 L9.4 296.7 L12.5 295.4 L15.6 294.2 L18.8 292.9 L21.9 292.0 L25.0 290.8 L28.2 289.5 L31.3 288.5 L34.4 287.5 L37.5 286.7 L40.7 286.3 L43.8 286.0 L46.9 286.0 L50.1 286.0 L53.2 285.8 L56.3 285.8 L59.4 285.4 L62.6 285.0 L65.7 284.5 L68.2 284.5 L71.3 285.4 L75.1 286.7 L78.8 287.9 L82.6 288.8 L86.4 289.5 L90.1 290.4 L93.9 291.0 L97.6 291.3 L100.0 291.3 L106.3 292.3 L112.5 293.2 L118.8 293.8 L125.0 294.2 L131.3 294.8 L137.5 294.8 L143.8 294.4 L150.1 293.6 L156.3 292.3 L162.6 291.1 L168.8 289.4 L175.1 287.5 L181.4 286.0 L187.6 284.0 L193.9 282.3 L200.1 280.4 L204.0 279.4 L228.8 270.8 L233.8 268.9 L238.8 267.1 L243.8 265.8 L248.8 263.3 L253.8 261.4 L258.8 258.9 L263.8 256.4 L268.8 253.3 L273.8 250.2 L278.8 245.8 L283.9 241.4 L288.9 236.4 L293.9 231.4 L298.9 225.8 L304.0 220.8 L306.3 218.8 L310.1 215.7 L313.8 211.9 L317.6 208.2 L321.3 203.8 L325.1 200.1 L328.8 195.7 L332.6 192.5 L336.3 189.0 L339.5 186.9 L342.6 185.7 L346.3 185.0 L350.1 184.8 L353.9 184.4 L357.6 184.4 L361.4 185.0 L365.1 186.0 L368.9 186.5 L372.6 186.9 L374.0 186.9 L391.3 177.8 L396.3 174.1 L400.1 169.1 L403.2 167.2 L406.9 162.8 L410.1 159.1 L413.8 154.0 L417.6 149.0 L421.3 145.3 L425.1 140.3 L428.8 135.3 L432.6 130.9 L436.3 126.5 L440.1 122.8 L443.2 119.0 L445.1 116.2 L448.8 113.1 L452.6 111.2 L456.3 109.9 L460.1 109.3 L463.9 108.7 L467.6 110.6 L471.4 114.3 L475.1 116.8 L478.9 119.1 L482.6 119.9 L484.0 120.3 L486.3 121.3 L491.3 121.5 L496.3 123.1 L501.3 124.4 L506.3 123.1 L511.3 121.9 L516.3 119.4 L521.3 116.3 L526.4 112.5 L530.1 110.0 L531.3 108.2 L535.1 104.4 L538.2 98.2 L541.3 92.5 L545.1 87.5 L548.8 83.2 L552.6 80.7 L556.4 78.8 L560.1 76.9 L563.9 73.8 L567.6 71.9 L571.4 71.0 L575.0 70.6 L579.0 71.0 L583.0 72.8 L586.0 75.5 L588.8 80.0 L592.6 83.1 L596.3 86.9 L600.1 90.6" fill="none" stroke="#e614e6" stroke-width="0.8" stroke-linejoin="round"/>
<path d="M0.0 299.2 L3.1 297.3 L6.3 293.5 L9.4 291.0 L12.5 289.8 L15.6 288.8 L18.8 287.5 L21.9 286.0 L25.0 284.5 L28.2 282.3 L30.7 279.2 L33.2 277.3 L36.3 276.3 L39.4 277.3 L42.6 279.2 L45.7 281.0 L48.8 282.9 L51.9 284.5 L55.1 286.0 L58.2 287.9 L61.3 289.8 L64.5 291.7 L67.6 292.9 L70.7 294.2 L73.2 295.4 L76.3 295.8 L80.1 295.4 L83.9 295.0 L87.0 293.5 L90.1 292.3 L93.9 291.7 L97.0 291.4 L100.0 289.8 L103.8 290.7 L107.5 290.7 L111.3 291.9 L115.0 292.6 L118.8 293.6 L122.5 294.4 L126.3 295.7 L130.0 297.6 L133.8 298.2 L137.5 297.8 L141.3 297.3 L145.1 296.3 L148.8 294.8 L152.6 293.2 L156.3 291.3 L160.1 288.2 L163.8 285.0 L167.6 282.8 L171.3 281.0 L175.1 279.4 L178.8 278.2 L182.6 277.3 L186.4 276.9 L190.1 276.5 L193.9 276.9 L197.6 277.3 L201.4 277.3 L204.0 276.5 L221.3 270.8 L225.0 268.3 L228.8 265.8 L232.5 262.7 L236.3 260.2 L240.1 257.7 L243.8 255.2 L247.6 252.1 L250.1 250.5 L253.8 250.8 L257.6 251.0 L261.3 250.5 L265.1 249.3 L268.8 247.3 L272.6 245.2 L276.3 242.0 L280.1 238.3 L283.2 233.9 L286.4 228.3 L289.5 222.6 L292.6 216.4 L295.1 212.0 L298.2 205.1 L301.3 198.8 L304.4 193.8 L307.5 189.8 L310.7 186.9 L313.8 185.0 L316.9 184.4 L320.1 184.4 L323.2 182.8 L326.3 181.5 L329.4 181.5 L332.6 182.3 L335.7 182.5 L338.8 182.8 L342.6 183.8 L346.3 184.4 L350.1 185.0 L353.9 185.7 L357.0 186.9 L359.5 189.4 L362.6 191.0 L366.4 191.9 L370.1 192.3 L374.0 190.0 L384.4 177.8 L388.2 172.8 L391.3 168.4 L394.4 163.4 L396.9 157.8 L398.8 150.3 L400.7 144.7 L403.2 139.7 L406.3 134.0 L410.1 128.4 L413.8 124.0 L417.6 120.3 L419.4 119.0 L422.6 115.6 L426.3 112.8 L430.1 111.6 L433.8 113.1 L437.6 113.3 L440.7 110.6 L443.8 107.8 L447.6 106.2 L451.3 105.3 L455.1 104.5 L458.8 104.9 L462.6 105.5 L466.4 106.5 L468.9 109.3 L471.4 115.6 L473.9 120.6 L477.0 126.8 L478.2 128.8 L481.3 133.2 L485.1 136.3 L488.8 136.9 L492.6 138.5 L496.3 140.7 L498.8 141.3 L501.3 139.4 L503.8 134.4 L506.3 128.8 L508.8 123.1 L511.3 116.3 L513.8 110.0 L515.1 107.6 L518.2 101.3 L521.3 95.1 L524.4 88.2 L527.6 81.9 L530.7 75.7 L533.8 70.0 L537.0 65.6 L540.1 62.5 L543.8 61.3 L547.6 61.9 L551.4 64.4 L555.1 67.5 L558.9 70.6 L562.6 72.5 L566.4 74.4 L570.1 76.9 L572.6 80.0 L576.3 82.5 L580.1 85.6 L583.8 89.4 L587.6 91.3 L591.3 95.0 L595.1 98.8 L598.2 102.5 L600.1 106.9" fill="none" stroke="#e6e01e" stroke-width="0.8" stroke-linejoin="round"/>
<path d="M0.0 303.3 L2.5 301.7 L5.0 299.2 L6.9 293.5 L9.4 287.9 L11.9 282.9 L14.4 279.2 L16.9 276.7 L20.0 276.3 L23.2 276.7 L25.7 278.5 L28.2 277.5 L31.3 276.7 L34.4 276.7 L37.5 277.3 L40.7 279.8 L43.8 282.9 L46.9 286.0 L50.1 289.2 L53.2 292.3 L56.3 294.5 L60.1 294.8 L63.8 295.0 L67.6 295.8 L71.3 296.1 L75.1 295.8 L78.8 295.4 L82.6 295.0 L86.4 292.9 L88.9 290.4 L92.0 288.8 L95.1 288.5 L98.2 288.3 L100.0 287.5 L103.1 290.1 L106.3 292.6 L109.4 295.1 L112.5 296.9 L116.3 297.6 L120.0 298.2 L123.8 298.2 L126.9 298.6 L130.7 298.8 L133.8 298.6 L136.9 297.3 L140.1 295.7 L143.2 293.8 L146.3 291.9 L148.8 289.4 L151.3 287.5 L154.4 286.9 L157.6 285.7 L160.7 282.8 L163.8 280.0 L167.6 278.2 L170.7 276.7 L173.8 275.7 L177.0 275.7 L180.1 274.4 L182.6 276.3 L186.4 277.8 L189.5 279.0 L193.2 279.8 L197.0 279.4 L200.1 278.8 L204.0 276.3 L212.5 270.8 L216.3 268.3 L220.0 264.6 L223.8 260.8 L227.5 258.6 L231.3 255.2 L235.0 252.7 L238.8 252.3 L242.6 251.8 L245.7 249.5 L248.2 248.5 L251.3 248.9 L255.1 249.3 L258.8 249.5 L262.6 249.8 L265.1 250.2 L268.2 247.7 L271.3 243.9 L274.5 239.5 L277.6 232.0 L281.4 223.9 L284.5 216.4 L286.4 212.0 L288.8 202.6 L291.9 196.3 L295.0 190.0 L298.2 185.7 L301.3 183.2 L304.4 181.3 L307.5 179.8 L310.1 180.7 L312.6 183.2 L315.1 184.4 L318.2 183.8 L321.3 183.2 L324.4 181.9 L327.6 180.7 L330.7 179.8 L333.8 179.4 L337.0 179.8 L339.5 183.2 L342.0 185.7 L345.1 188.2 L348.2 189.8 L351.4 190.7 L354.5 191.5 L357.6 191.5 L361.4 191.5 L365.1 191.5 L368.9 191.9 L371.4 191.3 L374.0 189.4 L379.4 177.8 L381.9 170.3 L384.4 162.8 L386.9 157.2 L389.4 151.5 L391.9 147.2 L394.4 143.4 L396.3 137.8 L398.2 131.5 L400.7 126.5 L403.8 123.4 L406.9 119.0 L408.2 118.1 L410.7 113.1 L413.8 111.6 L416.9 113.7 L420.1 113.1 L423.8 109.3 L426.9 110.3 L430.1 111.8 L433.8 113.3 L437.6 113.7 L440.7 109.9 L443.2 104.9 L446.3 101.8 L449.5 100.3 L452.0 97.4 L453.8 94.9 L456.3 98.7 L458.8 103.0 L461.4 107.4 L463.9 111.2 L466.4 116.2 L468.2 121.8 L469.5 126.8 L471.9 136.3 L475.0 145.0 L477.5 151.9 L480.0 155.1 L483.2 153.8 L485.1 150.1 L486.9 143.2 L488.8 137.5 L491.3 131.9 L493.8 128.8 L497.6 128.5 L501.3 125.6 L505.1 121.9 L508.2 117.5 L510.7 110.0 L513.8 93.8 L515.7 85.0 L518.2 77.5 L520.7 70.0 L523.2 63.8 L525.7 59.4 L528.2 56.9 L531.3 58.8 L534.5 60.6 L537.6 60.0 L540.7 62.5 L543.8 64.4 L547.0 64.0 L550.1 65.0 L553.2 70.0 L556.4 75.7 L559.5 77.5 L562.6 80.0 L565.7 81.9 L568.9 83.2 L571.3 84.4 L575.1 86.9 L578.8 89.4 L582.0 93.8 L585.1 96.9 L588.2 99.4 L591.3 103.8 L594.5 108.8 L597.6 113.8 L600.7 120.1" fill="none" stroke="#e4e4e4" stroke-width="0.8" stroke-linejoin="round"/>
<rect x="-0.54" y="455.51" width="2.20" height="14.69" fill="#e6352c"/>
<rect x="2.46" y="455.51" width="1.85" height="15.07" fill="#2a1e26" stroke="#e6352c" stroke-width="0.75"/>
<rect x="5.49" y="467.74" width="2.20" height="2.46" fill="#e6352c"/>
<rect x="9.25" y="379.86" width="2.20" height="90.34" fill="#5ce6ee"/>
<rect x="12.07" y="411.29" width="2.20" height="58.91" fill="#5ce6ee"/>
<rect x="15.84" y="430.10" width="2.20" height="40.10" fill="#5ce6ee"/>
<rect x="18.66" y="434.81" width="2.20" height="35.39" fill="#e6352c"/>
<rect x="22.05" y="413.17" width="2.20" height="57.03" fill="#e6352c"/>
<rect x="25.81" y="430.10" width="2.20" height="40.10" fill="#5ce6ee"/>
<rect x="29.01" y="400.94" width="2.20" height="69.26" fill="#e6352c"/>
<rect x="32.40" y="418.81" width="2.20" height="51.39" fill="#5ce6ee"/>
<rect x="35.97" y="439.14" width="2.20" height="31.06" fill="#e6352c"/>
<rect x="38.98" y="441.96" width="2.20" height="28.24" fill="#5ce6ee"/>
<rect x="42.56" y="441.02" width="2.20" height="29.18" fill="#5ce6ee"/>
<rect x="45.95" y="455.13" width="2.20" height="15.07" fill="#e6352c"/>
<rect x="49.14" y="454.00" width="2.20" height="16.20" fill="#5ce6ee"/>
<rect x="52.53" y="454.00" width="2.20" height="16.20" fill="#5ce6ee"/>
<rect x="56.09" y="455.51" width="1.85" height="15.07" fill="#2a1e26" stroke="#e6352c" stroke-width="0.75"/>
<rect x="58.74" y="450.24" width="2.20" height="19.96" fill="#e6352c"/>
<rect x="62.51" y="453.25" width="2.20" height="16.95" fill="#5ce6ee"/>
<rect x="65.88" y="459.27" width="1.85" height="11.30" fill="#2a1e26" stroke="#e6352c" stroke-width="0.75"/>
<rect x="69.27" y="458.33" width="1.85" height="12.24" fill="#2a1e26" stroke="#e6352c" stroke-width="0.75"/>
<rect x="72.29" y="457.96" width="2.20" height="12.24" fill="#5ce6ee"/>
<rect x="75.67" y="451.56" width="1.85" height="19.02" fill="#2a1e26" stroke="#e6352c" stroke-width="0.75"/>
<rect x="78.88" y="456.45" width="2.20" height="13.75" fill="#e6352c"/>
<rect x="82.25" y="459.27" width="1.85" height="11.30" fill="#2a1e26" stroke="#e6352c" stroke-width="0.75"/>
<rect x="85.84" y="452.12" width="2.20" height="18.08" fill="#e6352c"/>
<rect x="89.23" y="449.30" width="2.20" height="20.90" fill="#5ce6ee"/>
<rect x="92.43" y="455.51" width="2.20" height="14.69" fill="#e6352c"/>
<rect x="95.81" y="456.07" width="2.20" height="14.13" fill="#5ce6ee"/>
<rect x="99.20" y="458.90" width="2.20" height="11.30" fill="#5ce6ee"/>
<rect x="102.02" y="457.96" width="2.20" height="12.24" fill="#5ce6ee"/>
<rect x="105.79" y="462.10" width="2.20" height="8.10" fill="#5ce6ee"/>
<rect x="108.99" y="461.15" width="2.20" height="9.05" fill="#5ce6ee"/>
<rect x="112.75" y="463.04" width="2.20" height="7.16" fill="#e6352c"/>
<rect x="115.95" y="463.98" width="2.20" height="6.22" fill="#5ce6ee"/>
<rect x="119.34" y="460.21" width="2.20" height="9.99" fill="#e6352c"/>
<rect x="122.54" y="462.10" width="2.20" height="8.10" fill="#5ce6ee"/>
<rect x="125.92" y="457.01" width="2.20" height="13.19" fill="#5ce6ee"/>
<rect x="129.12" y="462.10" width="2.20" height="8.10" fill="#e6352c"/>
<rect x="132.68" y="463.41" width="1.85" height="7.16" fill="#2a1e26" stroke="#e6352c" stroke-width="0.75"/>
<rect x="135.88" y="433.30" width="1.85" height="37.27" fill="#2a1e26" stroke="#e6352c" stroke-width="0.75"/>
<rect x="139.65" y="439.51" width="1.85" height="31.06" fill="#2a1e26" stroke="#e6352c" stroke-width="0.75"/>
<rect x="142.86" y="455.13" width="2.20" height="15.07" fill="#5ce6ee"/>
<rect x="145.68" y="458.33" width="2.20" height="11.87" fill="#e6352c"/>
<rect x="149.62" y="437.63" width="1.85" height="32.94" fill="#2a1e26" stroke="#e6352c" stroke-width="0.75"/>
<rect x="152.83" y="452.12" width="2.20" height="18.08" fill="#5ce6ee"/>
<rect x="152.66" y="452.12" width="2.20" height="18.08" fill="#5ce6ee"/>
<rect x="156.05" y="455.13" width="2.20" height="15.07" fill="#e6352c"/>
<rect x="159.43" y="438.95" width="1.85" height="31.63" fill="#2a1e26" stroke="#e6352c" stroke-width="0.75"/>
<rect x="162.64" y="448.92" width="2.20" height="21.28" fill="#e6352c"/>
<rect x="165.84" y="447.98" width="2.20" height="22.22" fill="#e6352c"/>
<rect x="169.04" y="454.57" width="2.20" height="15.63" fill="#5ce6ee"/>
<rect x="172.05" y="452.12" width="2.20" height="18.08" fill="#5ce6ee"/>
<rect x="175.81" y="452.69" width="2.20" height="17.51" fill="#e6352c"/>
<rect x="179.01" y="459.27" width="2.20" height="10.93" fill="#5ce6ee"/>
<rect x="182.40" y="455.13" width="2.20" height="15.07" fill="#5ce6ee"/>
<rect x="185.97" y="460.78" width="2.20" height="9.42" fill="#5ce6ee"/>
<rect x="188.98" y="463.04" width="2.20" height="7.16" fill="#5ce6ee"/>
<rect x="192.56" y="460.21" width="2.20" height="9.99" fill="#5ce6ee"/>
<rect x="195.95" y="455.13" width="2.20" height="15.07" fill="#e6352c"/>
<rect x="199.14" y="451.18" width="2.20" height="19.02" fill="#e6352c"/>
<rect x="202.53" y="457.96" width="2.20" height="12.24" fill="#5ce6ee"/>
<rect x="205.92" y="460.78" width="2.20" height="9.42" fill="#5ce6ee"/>
<rect x="209.29" y="441.77" width="1.85" height="28.80" fill="#2a1e26" stroke="#e6352c" stroke-width="0.75"/>
<rect x="212.51" y="455.13" width="2.20" height="15.07" fill="#5ce6ee"/>
<rect x="215.88" y="456.83" width="1.85" height="13.75" fill="#2a1e26" stroke="#e6352c" stroke-width="0.75"/>
<rect x="219.27" y="450.62" width="1.85" height="19.96" fill="#2a1e26" stroke="#e6352c" stroke-width="0.75"/>
<rect x="222.47" y="452.50" width="1.85" height="18.08" fill="#2a1e26" stroke="#e6352c" stroke-width="0.75"/>
<rect x="226.05" y="453.25" width="2.20" height="16.95" fill="#5ce6ee"/>
<rect x="229.25" y="456.45" width="2.20" height="13.75" fill="#e6352c"/>
<rect x="232.82" y="449.67" width="1.85" height="20.90" fill="#2a1e26" stroke="#e6352c" stroke-width="0.75"/>
<rect x="235.84" y="455.13" width="2.20" height="15.07" fill="#e6352c"/>
<rect x="239.23" y="458.33" width="2.20" height="11.87" fill="#5ce6ee"/>
<rect x="242.43" y="459.84" width="2.20" height="10.36" fill="#5ce6ee"/>
<rect x="245.81" y="455.51" width="2.20" height="14.69" fill="#e6352c"/>
<rect x="249.20" y="423.14" width="2.20" height="47.06" fill="#5ce6ee"/>
<rect x="252.40" y="438.20" width="2.20" height="32.00" fill="#e6352c"/>
<rect x="255.79" y="453.06" width="2.20" height="17.14" fill="#e6352c"/>
<rect x="258.99" y="457.96" width="2.20" height="12.24" fill="#5ce6ee"/>
<rect x="262.37" y="450.80" width="2.20" height="19.40" fill="#e6352c"/>
<rect x="265.57" y="442.34" width="2.20" height="27.86" fill="#e6352c"/>
<rect x="268.96" y="451.75" width="2.20" height="18.45" fill="#5ce6ee"/>
<rect x="272.54" y="451.75" width="2.20" height="18.45" fill="#e6352c"/>
<rect x="275.92" y="446.10" width="2.20" height="24.10" fill="#e6352c"/>
<rect x="279.49" y="435.56" width="1.85" height="35.01" fill="#2a1e26" stroke="#e6352c" stroke-width="0.75"/>
<rect x="283.06" y="440.45" width="1.85" height="30.12" fill="#2a1e26" stroke="#e6352c" stroke-width="0.75"/>
<rect x="285.88" y="440.45" width="1.85" height="30.12" fill="#2a1e26" stroke="#e6352c" stroke-width="0.75"/>
<rect x="289.47" y="441.96" width="2.20" height="28.24" fill="#5ce6ee"/>
<rect x="292.86" y="450.24" width="2.20" height="19.96" fill="#e6352c"/>
<rect x="296.23" y="448.92" width="1.85" height="21.65" fill="#2a1e26" stroke="#e6352c" stroke-width="0.75"/>
<rect x="299.46" y="450.24" width="2.20" height="19.96" fill="#5ce6ee"/>
<rect x="302.84" y="455.51" width="1.85" height="15.07" fill="#2a1e26" stroke="#e6352c" stroke-width="0.75"/>
<rect x="306.05" y="455.13" width="2.20" height="15.07" fill="#5ce6ee"/>
<rect x="309.25" y="450.24" width="2.20" height="19.96" fill="#5ce6ee"/>
<rect x="312.81" y="452.50" width="1.85" height="18.08" fill="#2a1e26" stroke="#e6352c" stroke-width="0.75"/>
<rect x="316.01" y="455.88" width="1.85" height="14.69" fill="#2a1e26" stroke="#e6352c" stroke-width="0.75"/>
<rect x="319.04" y="456.45" width="2.20" height="13.75" fill="#5ce6ee"/>
<rect x="322.80" y="445.16" width="2.20" height="25.04" fill="#e6352c"/>
<rect x="326.19" y="443.28" width="2.20" height="26.92" fill="#5ce6ee"/>
<rect x="329.01" y="456.45" width="2.20" height="13.75" fill="#e6352c"/>
<rect x="332.77" y="459.27" width="2.20" height="10.93" fill="#5ce6ee"/>
<rect x="335.97" y="459.27" width="2.20" height="10.93" fill="#e6352c"/>
<rect x="338.98" y="451.18" width="2.20" height="19.02" fill="#5ce6ee"/>
<rect x="342.56" y="456.45" width="2.20" height="13.75" fill="#5ce6ee"/>
<rect x="345.95" y="458.90" width="2.20" height="11.30" fill="#e6352c"/>
<rect x="349.14" y="461.15" width="2.20" height="9.05" fill="#e6352c"/>
<rect x="352.53" y="456.45" width="2.20" height="13.75" fill="#e6352c"/>
<rect x="355.92" y="457.96" width="2.20" height="12.24" fill="#5ce6ee"/>
<rect x="359.12" y="458.33" width="2.20" height="11.87" fill="#5ce6ee"/>
<rect x="362.68" y="460.59" width="1.85" height="9.99" fill="#2a1e26" stroke="#e6352c" stroke-width="0.75"/>
<rect x="366.26" y="461.53" width="1.85" height="9.05" fill="#2a1e26" stroke="#e6352c" stroke-width="0.75"/>
<rect x="369.27" y="462.47" width="1.85" height="8.10" fill="#2a1e26" stroke="#e6352c" stroke-width="0.75"/>
<rect x="372.47" y="445.53" width="1.85" height="25.04" fill="#2a1e26" stroke="#e6352c" stroke-width="0.75"/>
<rect x="376.23" y="449.67" width="1.85" height="20.90" fill="#2a1e26" stroke="#e6352c" stroke-width="0.75"/>
<rect x="379.43" y="454.94" width="1.85" height="15.63" fill="#2a1e26" stroke="#e6352c" stroke-width="0.75"/>
<rect x="382.44" y="438.95" width="1.85" height="31.63" fill="#2a1e26" stroke="#e6352c" stroke-width="0.75"/>
<rect x="385.84" y="450.24" width="2.20" height="19.96" fill="#5ce6ee"/>
<rect x="389.40" y="455.88" width="1.85" height="14.69" fill="#2a1e26" stroke="#e6352c" stroke-width="0.75"/>
<rect x="392.43" y="455.51" width="2.20" height="14.69" fill="#e6352c"/>
<rect x="396.19" y="441.96" width="2.20" height="28.24" fill="#e6352c"/>
<rect x="399.20" y="443.28" width="2.20" height="26.92" fill="#e6352c"/>
<rect x="402.78" y="441.96" width="2.20" height="28.24" fill="#5ce6ee"/>
<rect x="406.16" y="452.12" width="2.20" height="18.08" fill="#e6352c"/>
<rect x="409.36" y="455.51" width="2.20" height="14.69" fill="#e6352c"/>
<rect x="412.75" y="456.07" width="2.20" height="14.13" fill="#e6352c"/>
<rect x="415.95" y="455.13" width="2.20" height="15.07" fill="#5ce6ee"/>
<rect x="419.71" y="461.15" width="2.20" height="9.05" fill="#5ce6ee"/>
<rect x="422.72" y="459.27" width="2.20" height="10.93" fill="#5ce6ee"/>
<rect x="425.92" y="458.90" width="2.20" height="11.30" fill="#e6352c"/>
<rect x="429.31" y="458.90" width="2.20" height="11.30" fill="#5ce6ee"/>
<rect x="432.51" y="458.33" width="2.20" height="11.87" fill="#5ce6ee"/>
<rect x="435.88" y="459.27" width="1.85" height="11.30" fill="#2a1e26" stroke="#e6352c" stroke-width="0.75"/>
<rect x="439.27" y="455.51" width="1.85" height="15.07" fill="#2a1e26" stroke="#e6352c" stroke-width="0.75"/>
<rect x="442.47" y="447.79" width="1.85" height="22.78" fill="#2a1e26" stroke="#e6352c" stroke-width="0.75"/>
<rect x="446.06" y="457.01" width="2.20" height="13.19" fill="#5ce6ee"/>
<rect x="449.46" y="449.30" width="2.20" height="20.90" fill="#5ce6ee"/>
<rect x="452.84" y="453.63" width="1.85" height="16.95" fill="#2a1e26" stroke="#e6352c" stroke-width="0.75"/>
<rect x="456.05" y="455.13" width="2.20" height="15.07" fill="#5ce6ee"/>
<rect x="459.25" y="461.15" width="2.20" height="9.05" fill="#e6352c"/>
<rect x="462.64" y="459.27" width="2.20" height="10.93" fill="#5ce6ee"/>
<rect x="465.84" y="456.45" width="2.20" height="13.75" fill="#5ce6ee"/>
<rect x="469.04" y="449.30" width="2.20" height="20.90" fill="#5ce6ee"/>
<rect x="472.80" y="449.30" width="2.20" height="20.90" fill="#e6352c"/>
<rect x="476.19" y="457.01" width="2.20" height="13.19" fill="#e6352c"/>
<rect x="479.01" y="454.57" width="2.20" height="15.63" fill="#5ce6ee"/>
<rect x="482.77" y="458.90" width="2.20" height="11.30" fill="#e6352c"/>
<rect x="485.97" y="454.57" width="2.20" height="15.63" fill="#e6352c"/>
<rect x="489.36" y="457.96" width="2.20" height="12.24" fill="#e6352c"/>
<rect x="492.56" y="458.90" width="2.20" height="11.30" fill="#5ce6ee"/>
<rect x="495.95" y="458.33" width="2.20" height="11.87" fill="#5ce6ee"/>
<rect x="499.33" y="460.21" width="2.20" height="9.99" fill="#e6352c"/>
<rect x="502.91" y="453.25" width="2.20" height="16.95" fill="#e6352c"/>
<rect x="506.47" y="433.30" width="1.85" height="37.27" fill="#2a1e26" stroke="#e6352c" stroke-width="0.75"/>
<rect x="509.86" y="436.69" width="1.85" height="33.89" fill="#2a1e26" stroke="#e6352c" stroke-width="0.75"/>
<rect x="513.06" y="436.13" width="1.85" height="34.45" fill="#2a1e26" stroke="#e6352c" stroke-width="0.75"/>
<rect x="516.26" y="445.53" width="1.85" height="25.04" fill="#2a1e26" stroke="#e6352c" stroke-width="0.75"/>
<rect x="519.64" y="443.65" width="1.85" height="26.92" fill="#2a1e26" stroke="#e6352c" stroke-width="0.75"/>
<rect x="522.84" y="445.53" width="1.85" height="25.04" fill="#2a1e26" stroke="#e6352c" stroke-width="0.75"/>
<rect x="526.05" y="447.04" width="2.20" height="23.16" fill="#5ce6ee"/>
<rect x="529.44" y="452.69" width="2.20" height="17.51" fill="#5ce6ee"/>
<rect x="533.19" y="453.63" width="1.85" height="16.95" fill="#2a1e26" stroke="#e6352c" stroke-width="0.75"/>
<rect x="536.20" y="453.63" width="1.85" height="16.95" fill="#2a1e26" stroke="#e6352c" stroke-width="0.75"/>
<rect x="539.40" y="456.83" width="1.85" height="13.75" fill="#2a1e26" stroke="#e6352c" stroke-width="0.75"/>
<rect x="542.99" y="454.57" width="2.20" height="15.63" fill="#5ce6ee"/>
<rect x="546.19" y="457.01" width="2.20" height="13.19" fill="#e6352c"/>
<rect x="549.20" y="457.96" width="2.20" height="12.24" fill="#5ce6ee"/>
<rect x="552.78" y="455.51" width="2.20" height="14.69" fill="#5ce6ee"/>
<rect x="556.16" y="458.33" width="2.20" height="11.87" fill="#e6352c"/>
<rect x="559.93" y="459.84" width="2.20" height="10.36" fill="#5ce6ee"/>
<rect x="562.75" y="461.53" width="2.20" height="8.67" fill="#5ce6ee"/>
<rect x="565.95" y="456.07" width="2.20" height="14.13" fill="#5ce6ee"/>
<rect x="569.34" y="457.96" width="2.20" height="12.24" fill="#5ce6ee"/>
<rect x="572.72" y="453.25" width="2.20" height="16.95" fill="#e6352c"/>
<rect x="576.49" y="458.33" width="2.20" height="11.87" fill="#5ce6ee"/>
<rect x="579.69" y="463.04" width="2.20" height="7.16" fill="#e6352c"/>
<rect x="582.89" y="462.10" width="2.20" height="8.10" fill="#e6352c"/>
<rect x="586.27" y="463.04" width="2.20" height="7.16" fill="#5ce6ee"/>
<rect x="589.66" y="462.66" width="2.20" height="7.54" fill="#e6352c"/>
<rect x="592.86" y="455.13" width="2.20" height="15.07" fill="#5ce6ee"/>
<rect x="596.25" y="459.27" width="2.20" height="10.93" fill="#e6352c"/>
<rect x="599.45" y="458.33" width="2.20" height="11.87" fill="#5ce6ee"/>
<path d="M0.0 451.7 L4.7 452.7 L7.5 450.8 L11.3 444.2 L15.1 441.4 L18.8 439.5 L22.6 436.7 L26.3 433.9 L30.1 428.2 L33.9 424.5 L37.6 422.6 L40.1 420.7 L42.3 424.5 L46.1 431.0 L49.9 433.9 L53.6 437.6 L57.4 441.4 L61.2 445.2 L64.9 449.9 L68.7 452.1 L73.4 454.0 L79.0 455.1 L86.6 455.1 L94.1 454.6 L101.6 455.1 L107.3 456.5 L112.9 458.3 L120.4 460.2 L128.0 461.2 L133.6 461.2 L137.4 459.3 L141.1 456.5 L146.8 455.5 L150.0 452.7 L150.0 445.2 L155.6 451.7 L161.3 448.0 L166.9 447.0 L172.6 448.9 L178.2 450.8 L183.9 452.1 L189.5 454.0 L195.2 455.9 L200.8 457.0 L206.5 457.4 L212.1 456.5 L217.7 455.5 L223.4 454.0 L229.0 453.6 L234.7 453.6 L240.3 453.3 L245.0 455.9 L249.7 452.7 L255.4 450.2 L261.0 450.2 L266.7 449.5 L272.3 449.9 L278.0 447.0 L283.6 445.2 L289.3 445.2 L294.9 445.2 L300.0 445.7 L300.0 445.2 L305.6 445.7 L311.3 446.5 L316.9 448.9 L322.6 450.8 L328.2 451.4 L333.9 452.7 L339.5 453.3 L345.2 454.6 L350.8 455.5 L356.5 455.9 L362.1 457.8 L367.7 458.3 L373.4 457.8 L379.0 455.9 L384.7 454.0 L390.3 453.6 L396.0 451.7 L401.6 448.9 L407.3 448.0 L412.9 448.4 L418.6 450.2 L424.2 452.1 L429.8 454.0 L435.5 457.4 L439.3 458.9 L444.9 456.5 L450.0 455.5 L450.0 455.9 L455.6 455.1 L461.3 455.1 L466.9 455.1 L472.6 454.0 L478.2 454.0 L483.9 454.6 L489.5 455.1 L495.2 455.5 L500.8 455.5 L505.5 455.1 L510.2 452.7 L515.9 449.5 L521.5 447.6 L527.2 446.1 L532.8 444.6 L536.6 444.2 L540.3 447.0 L546.0 449.9 L551.6 452.7 L557.3 454.6 L562.9 456.5 L568.6 457.8 L574.2 458.3 L579.8 458.9 L585.5 459.6 L591.1 460.2 L596.8 459.6 L600.5 458.9" fill="none" stroke="#e614e6" stroke-width="0.9" stroke-linejoin="round"/>
<path d="M0.0 451.7 L3.8 453.6 L6.6 456.5 L9.4 444.2 L13.2 434.8 L16.9 428.2 L20.7 420.7 L23.1 414.1 L25.4 418.8 L28.2 423.5 L31.1 420.7 L33.9 419.4 L37.6 420.7 L40.5 425.4 L44.2 430.1 L47.0 440.5 L50.8 447.0 L54.6 450.8 L58.3 453.6 L62.1 454.0 L67.7 454.6 L75.3 455.9 L82.8 455.9 L90.3 454.0 L96.0 454.6 L101.6 455.1 L107.3 458.3 L112.9 460.8 L120.4 462.1 L128.0 461.5 L133.6 461.2 L137.4 454.6 L141.1 450.8 L144.9 449.9 L147.7 448.0 L150.0 444.2 L150.0 444.2 L153.8 449.9 L157.5 448.9 L162.2 446.1 L166.9 448.9 L172.6 449.9 L178.2 452.7 L183.9 455.5 L189.5 458.3 L194.2 460.2 L198.9 458.3 L204.6 457.8 L210.2 453.6 L215.9 454.0 L221.5 450.8 L227.2 453.6 L232.8 453.6 L238.4 454.0 L244.1 456.5 L247.9 454.6 L252.6 448.0 L257.3 445.7 L262.9 445.2 L266.7 448.9 L272.3 451.7 L278.0 448.0 L283.6 444.2 L288.3 441.4 L291.1 440.1 L296.8 443.3 L300.0 446.1 L300.0 446.1 L304.7 450.8 L309.4 451.7 L315.1 453.6 L320.7 453.3 L326.3 450.8 L332.0 452.1 L337.6 453.3 L343.3 456.5 L348.9 457.4 L354.6 456.5 L360.2 458.3 L365.9 458.3 L370.6 460.2 L375.3 456.5 L380.9 454.6 L384.7 449.9 L387.5 448.0 L390.3 449.9 L394.1 451.7 L397.9 448.9 L402.6 448.0 L408.2 447.6 L412.9 449.9 L418.6 454.6 L424.2 457.4 L429.8 458.9 L435.5 459.3 L441.1 456.5 L446.8 454.6 L450.0 453.3 L450.0 453.6 L453.8 451.7 L457.5 451.7 L461.3 455.1 L466.9 456.5 L472.6 455.1 L478.2 453.6 L483.9 455.1 L489.5 456.5 L495.2 457.8 L500.8 458.9 L504.6 457.8 L508.3 451.7 L512.1 445.2 L515.9 441.4 L520.6 438.9 L524.3 441.4 L529.0 445.7 L534.7 448.9 L540.3 451.7 L546.0 454.6 L551.6 455.5 L557.3 457.4 L562.9 458.9 L568.6 458.9 L574.2 457.8 L579.8 458.3 L585.5 459.6 L591.1 461.2 L595.8 460.2 L600.5 458.3" fill="none" stroke="#e6e01e" stroke-width="0.9" stroke-linejoin="round"/></g>
<text x="534.80" y="41.90" font-size="9.60" fill="#d8dade" textLength="22.82" lengthAdjust="spacingAndGlyphs" xml:space="preserve">14.28</text>
<circle cx="523.9" cy="33.6" r="1.1" fill="none" stroke="#e0e0e0" stroke-width="0.7"/>
<line x1="524.80" y1="34.00" x2="532.00" y2="36.80" stroke="#e0e0e0" stroke-width="0.8"/>
<text x="653.80" y="16.20" font-size="11.40" fill="#e6d85a">双良节能</text>
<text x="702.60" y="16.30" font-size="12.00" fill="#dcdcdc" textLength="39.64" lengthAdjust="spacingAndGlyphs" xml:space="preserve">600481</text>
<text x="745.20" y="13.40" font-size="8.20" fill="#e83030" font-weight="bold" textLength="5.33" lengthAdjust="spacingAndGlyphs" xml:space="preserve">R</text>
<rect x="788.20" y="5.00" width="37.60" height="35.70" fill="#1a1b1f"/>
<text x="789.20" y="16.60" font-size="9.10" fill="#f0f0f0">通用机械</text>
<text x="791.95" y="35.20" font-size="9.50" fill="#24b850" textLength="30.10" lengthAdjust="spacingAndGlyphs" xml:space="preserve">-2.30%</text>
<text x="654.60" y="35.20" font-size="12.80" fill="#22c04c" font-weight="bold" textLength="31.55" lengthAdjust="spacingAndGlyphs" xml:space="preserve">10.51</text>
<text x="694.50" y="35.00" font-size="11.00" fill="#24b850" textLength="23.82" lengthAdjust="spacingAndGlyphs" xml:space="preserve">-0.40</text>
<text x="726.00" y="35.00" font-size="11.00" fill="#24b850" textLength="33.11" lengthAdjust="spacingAndGlyphs" xml:space="preserve">-3.67%</text>
<rect x="656.5" y="45.5" width="39.5" height="15.5" fill="none" stroke="#c23434" stroke-width="1"/>
<text x="671.00" y="57.20" font-size="10.50" fill="#e03a3a">买</text>
<rect x="700.5" y="45.5" width="39.5" height="15.5" fill="none" stroke="#2f80d0" stroke-width="1"/>
<text x="715.00" y="57.20" font-size="10.50" fill="#3a8ee0">卖</text>
<rect x="743.5" y="45.5" width="39.5" height="15.5" fill="none" stroke="#6a6e76" stroke-width="1"/>
<text x="758.00" y="57.20" font-size="10.50" fill="#e0e0e0">查</text>
<rect x="787.0" y="45.5" width="39.5" height="15.5" fill="none" stroke="#6a6e76" stroke-width="1"/>
<text x="801.50" y="57.20" font-size="10.50" fill="#e0e0e0">警</text>
<line x1="652.00" y1="65.60" x2="831.00" y2="65.60" stroke="#5a5e66" stroke-width="1"/>
<text x="653.80" y="77.20" font-size="10.50" fill="#ececec">卖五</text>
<text x="713.64" y="77.00" font-size="11.30" fill="#24b850" textLength="26.16" lengthAdjust="spacingAndGlyphs" xml:space="preserve">10.56</text>
<text x="810.90" y="77.00" font-size="11.30" fill="#e6e6e6" textLength="18.10" lengthAdjust="spacingAndGlyphs" xml:space="preserve">104</text>
<text x="653.80" y="90.80" font-size="10.50" fill="#ececec">卖四</text>
<text x="713.64" y="90.60" font-size="11.30" fill="#24b850" textLength="26.16" lengthAdjust="spacingAndGlyphs" xml:space="preserve">10.55</text>
<text x="810.90" y="90.60" font-size="11.30" fill="#e6e6e6" textLength="18.10" lengthAdjust="spacingAndGlyphs" xml:space="preserve">549</text>
<text x="653.80" y="104.40" font-size="10.50" fill="#ececec">卖三</text>
<text x="713.64" y="104.20" font-size="11.30" fill="#24b850" textLength="26.16" lengthAdjust="spacingAndGlyphs" xml:space="preserve">10.54</text>
<text x="810.90" y="104.20" font-size="11.30" fill="#e6e6e6" textLength="18.10" lengthAdjust="spacingAndGlyphs" xml:space="preserve">367</text>
<text x="653.80" y="118.00" font-size="10.50" fill="#ececec">卖二</text>
<text x="713.64" y="117.80" font-size="11.30" fill="#24b850" textLength="26.16" lengthAdjust="spacingAndGlyphs" xml:space="preserve">10.53</text>
<text x="804.87" y="117.80" font-size="11.30" fill="#e6e6e6" textLength="24.13" lengthAdjust="spacingAndGlyphs" xml:space="preserve">3004</text>
<text x="653.80" y="131.40" font-size="10.50" fill="#ececec">卖一</text>
<text x="713.64" y="131.20" font-size="11.30" fill="#24b850" textLength="26.16" lengthAdjust="spacingAndGlyphs" xml:space="preserve">10.52</text>
<text x="810.90" y="131.20" font-size="11.30" fill="#e6e6e6" textLength="18.10" lengthAdjust="spacingAndGlyphs" xml:space="preserve">401</text>
<line x1="652.00" y1="135.40" x2="737.00" y2="135.40" stroke="#b07a20" stroke-width="1"/>
<line x1="737.00" y1="135.40" x2="831.00" y2="135.40" stroke="#2f6fb0" stroke-width="1"/>
<text x="653.80" y="147.00" font-size="10.50" fill="#ececec">买一</text>
<text x="713.64" y="146.80" font-size="11.30" fill="#24b850" textLength="26.16" lengthAdjust="spacingAndGlyphs" xml:space="preserve">10.51</text>
<text x="804.87" y="146.80" font-size="11.30" fill="#e6e6e6" textLength="24.13" lengthAdjust="spacingAndGlyphs" xml:space="preserve">1099</text>
<text x="653.80" y="160.60" font-size="10.50" fill="#ececec">买二</text>
<text x="713.64" y="160.40" font-size="11.30" fill="#24b850" textLength="26.16" lengthAdjust="spacingAndGlyphs" xml:space="preserve">10.50</text>
<text x="804.87" y="160.40" font-size="11.30" fill="#e6e6e6" textLength="24.13" lengthAdjust="spacingAndGlyphs" xml:space="preserve">1144</text>
<text x="653.80" y="174.20" font-size="10.50" fill="#ececec">买三</text>
<text x="713.64" y="174.00" font-size="11.30" fill="#24b850" textLength="26.16" lengthAdjust="spacingAndGlyphs" xml:space="preserve">10.49</text>
<text x="810.90" y="174.00" font-size="11.30" fill="#e6e6e6" textLength="18.10" lengthAdjust="spacingAndGlyphs" xml:space="preserve">897</text>
<text x="653.80" y="187.80" font-size="10.50" fill="#ececec">买四</text>
<text x="713.64" y="187.60" font-size="11.30" fill="#24b850" textLength="26.16" lengthAdjust="spacingAndGlyphs" xml:space="preserve">10.48</text>
<text x="810.90" y="187.60" font-size="11.30" fill="#e6e6e6" textLength="18.10" lengthAdjust="spacingAndGlyphs" xml:space="preserve">890</text>
<text x="653.80" y="201.40" font-size="10.50" fill="#ececec">买五</text>
<text x="713.64" y="201.20" font-size="11.30" fill="#24b850" textLength="26.16" lengthAdjust="spacingAndGlyphs" xml:space="preserve">10.47</text>
<text x="810.90" y="201.20" font-size="11.30" fill="#e6e6e6" textLength="18.10" lengthAdjust="spacingAndGlyphs" xml:space="preserve">130</text>
<line x1="652.00" y1="206.00" x2="831.00" y2="206.00" stroke="#5a5e66" stroke-width="1"/>
<text x="653.80" y="218.40" font-size="10.50" fill="#ececec">涨停</text>
<text x="713.64" y="218.20" font-size="11.30" fill="#e03a3a" textLength="26.16" lengthAdjust="spacingAndGlyphs" xml:space="preserve">12.00</text>
<text x="742.80" y="218.40" font-size="10.50" fill="#ececec">跌停</text>
<text x="808.66" y="218.20" font-size="11.30" fill="#24b850" textLength="20.34" lengthAdjust="spacingAndGlyphs" xml:space="preserve">9.82</text>
<text x="653.80" y="232.40" font-size="10.50" fill="#ececec">最高</text>
<text x="713.64" y="232.20" font-size="11.30" fill="#e03a3a" textLength="26.16" lengthAdjust="spacingAndGlyphs" xml:space="preserve">11.05</text>
<text x="742.80" y="232.40" font-size="10.50" fill="#ececec">量比</text>
<text x="808.66" y="232.20" font-size="11.30" fill="#e03a3a" textLength="20.34" lengthAdjust="spacingAndGlyphs" xml:space="preserve">1.13</text>
<text x="653.80" y="246.60" font-size="10.50" fill="#ececec">最低</text>
<text x="713.64" y="246.40" font-size="11.30" fill="#24b850" textLength="26.16" lengthAdjust="spacingAndGlyphs" xml:space="preserve">10.48</text>
<text x="742.80" y="246.60" font-size="10.50" fill="#ececec">市值</text>
<text x="792.34" y="246.40" font-size="11.30" fill="#e0e0e0" textLength="26.16" lengthAdjust="spacingAndGlyphs" xml:space="preserve">171.0</text>
<text x="818.50" y="246.40" font-size="10.50" fill="#e0e0e0">亿</text>
<text x="653.80" y="261.20" font-size="10.50" fill="#ececec">现量</text>
<text x="715.92" y="261.00" font-size="11.30" fill="#a020c0" textLength="23.88" lengthAdjust="spacingAndGlyphs" xml:space="preserve">4461</text>
<text x="742.80" y="261.20" font-size="10.50" fill="#ececec">总量</text>
<text x="793.18" y="261.00" font-size="11.30" fill="#e0e0e0" textLength="35.82" lengthAdjust="spacingAndGlyphs" xml:space="preserve">316515</text>
<text x="653.80" y="275.50" font-size="10.50" fill="#ececec">外盘</text>
<text x="703.98" y="275.30" font-size="11.30" fill="#e03a3a" textLength="35.82" lengthAdjust="spacingAndGlyphs" xml:space="preserve">129668</text>
<text x="742.80" y="275.50" font-size="10.50" fill="#ececec">内盘</text>
<text x="793.18" y="275.30" font-size="11.30" fill="#24b850" textLength="35.82" lengthAdjust="spacingAndGlyphs" xml:space="preserve">186847</text>
<line x1="652.00" y1="279.40" x2="831.00" y2="279.40" stroke="#5a5e66" stroke-width="1"/>
<text x="653.80" y="292.10" font-size="10.50" fill="#ececec">换手</text>
<text x="710.16" y="291.90" font-size="11.30" fill="#e0e0e0" textLength="29.64" lengthAdjust="spacingAndGlyphs" xml:space="preserve">1.95%</text>
<text x="742.80" y="292.10" font-size="10.50" fill="#ececec">股本</text>
<text x="798.16" y="291.90" font-size="11.30" fill="#e0e0e0" textLength="20.34" lengthAdjust="spacingAndGlyphs" xml:space="preserve">16.3</text>
<text x="818.50" y="291.90" font-size="10.50" fill="#e0e0e0">亿</text>
<text x="653.80" y="306.30" font-size="10.50" fill="#ececec">净资</text>
<text x="719.46" y="306.10" font-size="11.30" fill="#e0e0e0" textLength="20.34" lengthAdjust="spacingAndGlyphs" xml:space="preserve">1.40</text>
<text x="742.80" y="306.30" font-size="10.50" fill="#ececec">流通</text>
<text x="798.16" y="306.10" font-size="11.30" fill="#e0e0e0" textLength="20.34" lengthAdjust="spacingAndGlyphs" xml:space="preserve">16.3</text>
<text x="818.50" y="306.10" font-size="10.50" fill="#e0e0e0">亿</text>
<text x="653.80" y="320.60" font-size="10.50" fill="#ececec">收益㈢</text>
<text x="713.64" y="320.40" font-size="11.30" fill="#e0e0e0" textLength="26.16" lengthAdjust="spacingAndGlyphs" xml:space="preserve">0.110</text>
<text x="742.80" y="320.60" font-size="10.50" fill="#ececec" textLength="16.63" lengthAdjust="spacingAndGlyphs" xml:space="preserve">PE(</text>
<text x="759.43" y="320.60" font-size="10.50" fill="#ececec">动</text>
<text x="769.93" y="320.60" font-size="10.50" fill="#ececec" textLength="3.32" lengthAdjust="spacingAndGlyphs" xml:space="preserve">)</text>
<text x="808.66" y="320.40" font-size="11.30" fill="#e0e0e0" textLength="20.34" lengthAdjust="spacingAndGlyphs" xml:space="preserve">72.4</text>
<line x1="652.00" y1="327.50" x2="831.00" y2="327.50" stroke="#5a5e66" stroke-width="1"/>
<text x="653.20" y="339.20" font-size="10.60" fill="#ececec">交易状态</text>
<text x="695.60" y="339.20" font-size="10.60" fill="#ececec" textLength="2.74" lengthAdjust="spacingAndGlyphs" xml:space="preserve">:</text>
<text x="700.90" y="339.20" font-size="10.60" fill="#ececec">闭市阶段</text>
<text x="747.2" y="339" font-size="11" fill="#ececec" textLength="40" lengthAdjust="spacingAndGlyphs">15:00:05</text>
<line x1="652.00" y1="343.60" x2="831.00" y2="343.60" stroke="#5a5e66" stroke-width="1"/>
<text x="653.20" y="355.20" font-size="10.50" fill="#ececec">净流入额</text>
<rect x="714.50" y="348.30" width="33.30" height="5.00" fill="#12c440"/>
<text x="761.24" y="355.00" font-size="11.30" fill="#24b850" textLength="28.18" lengthAdjust="spacingAndGlyphs" xml:space="preserve">-6095</text>
<text x="789.42" y="355.00" font-size="10.50" fill="#24b850">万</text>
<text x="799.92" y="355.00" font-size="11.30" fill="#24b850" textLength="28.78" lengthAdjust="spacingAndGlyphs" xml:space="preserve"> -18%</text>
<text x="653.20" y="369.20" font-size="10.50" fill="#ececec">大宗流入</text>
<rect x="714.50" y="362.80" width="30.50" height="5.00" fill="#12c440"/>
<text x="761.24" y="369.00" font-size="11.30" fill="#24b850" textLength="28.18" lengthAdjust="spacingAndGlyphs" xml:space="preserve">-5592</text>
<text x="789.42" y="369.00" font-size="10.50" fill="#24b850">万</text>
<text x="799.92" y="369.00" font-size="11.30" fill="#24b850" textLength="28.78" lengthAdjust="spacingAndGlyphs" xml:space="preserve"> -17%</text>
<line x1="652.00" y1="374.60" x2="831.00" y2="374.60" stroke="#5a5e66" stroke-width="1"/>
<text x="653.50" y="386.10" font-size="11.00" fill="#e0e0e0" textLength="25.32" lengthAdjust="spacingAndGlyphs" xml:space="preserve">14:55</text>
<text x="727.18" y="386.10" font-size="11.00" fill="#24b850" textLength="25.32" lengthAdjust="spacingAndGlyphs" xml:space="preserve">10.51</text>
<text x="800.12" y="386.10" font-size="11.00" fill="#e0e0e0" textLength="11.38" lengthAdjust="spacingAndGlyphs" xml:space="preserve">20</text>
<text x="821.20" y="386.10" font-size="10.50" fill="#24b850" textLength="6.30" lengthAdjust="spacingAndGlyphs" xml:space="preserve">S</text>
<text x="653.50" y="399.75" font-size="11.00" fill="#e0e0e0" textLength="25.32" lengthAdjust="spacingAndGlyphs" xml:space="preserve">14:55</text>
<text x="727.18" y="399.75" font-size="11.00" fill="#24b850" textLength="25.32" lengthAdjust="spacingAndGlyphs" xml:space="preserve">10.50</text>
<text x="794.43" y="399.75" font-size="11.00" fill="#e0e0e0" textLength="17.07" lengthAdjust="spacingAndGlyphs" xml:space="preserve">315</text>
<text x="821.20" y="399.75" font-size="10.50" fill="#24b850" textLength="6.30" lengthAdjust="spacingAndGlyphs" xml:space="preserve">S</text>
<text x="653.50" y="413.40" font-size="11.00" fill="#e0e0e0" textLength="25.32" lengthAdjust="spacingAndGlyphs" xml:space="preserve">14:55</text>
<text x="727.18" y="413.40" font-size="11.00" fill="#24b850" textLength="25.32" lengthAdjust="spacingAndGlyphs" xml:space="preserve">10.51</text>
<text x="800.12" y="413.40" font-size="11.00" fill="#e0e0e0" textLength="11.38" lengthAdjust="spacingAndGlyphs" xml:space="preserve">42</text>
<text x="821.20" y="413.40" font-size="10.50" fill="#24b850" textLength="6.30" lengthAdjust="spacingAndGlyphs" xml:space="preserve">S</text>
<text x="653.50" y="427.05" font-size="11.00" fill="#e0e0e0" textLength="25.32" lengthAdjust="spacingAndGlyphs" xml:space="preserve">14:55</text>
<text x="727.18" y="427.05" font-size="11.00" fill="#24b850" textLength="25.32" lengthAdjust="spacingAndGlyphs" xml:space="preserve">10.51</text>
<text x="800.12" y="427.05" font-size="11.00" fill="#e0e0e0" textLength="11.38" lengthAdjust="spacingAndGlyphs" xml:space="preserve">18</text>
<text x="821.20" y="427.05" font-size="10.50" fill="#24b850" textLength="6.30" lengthAdjust="spacingAndGlyphs" xml:space="preserve">S</text>
<text x="653.50" y="440.70" font-size="11.00" fill="#e0e0e0" textLength="25.32" lengthAdjust="spacingAndGlyphs" xml:space="preserve">14:56</text>
<text x="727.18" y="440.70" font-size="11.00" fill="#24b850" textLength="25.32" lengthAdjust="spacingAndGlyphs" xml:space="preserve">10.52</text>
<text x="805.81" y="440.70" font-size="11.00" fill="#e0e0e0" textLength="5.69" lengthAdjust="spacingAndGlyphs" xml:space="preserve">6</text>
<text x="821.20" y="440.70" font-size="10.50" fill="#e03a3a" textLength="6.30" lengthAdjust="spacingAndGlyphs" xml:space="preserve">B</text>
<text x="653.50" y="454.35" font-size="11.00" fill="#e0e0e0" textLength="25.32" lengthAdjust="spacingAndGlyphs" xml:space="preserve">14:56</text>
<text x="727.18" y="454.35" font-size="11.00" fill="#24b850" textLength="25.32" lengthAdjust="spacingAndGlyphs" xml:space="preserve">10.52</text>
<text x="794.43" y="454.35" font-size="11.00" fill="#e0e0e0" textLength="17.07" lengthAdjust="spacingAndGlyphs" xml:space="preserve">456</text>
<text x="821.20" y="454.35" font-size="10.50" fill="#e03a3a" textLength="6.30" lengthAdjust="spacingAndGlyphs" xml:space="preserve">B</text>
<text x="653.50" y="468.00" font-size="11.00" fill="#e0e0e0" textLength="25.32" lengthAdjust="spacingAndGlyphs" xml:space="preserve">14:56</text>
<text x="727.18" y="468.00" font-size="11.00" fill="#24b850" textLength="25.32" lengthAdjust="spacingAndGlyphs" xml:space="preserve">10.52</text>
<text x="794.43" y="468.00" font-size="11.00" fill="#e0e0e0" textLength="17.07" lengthAdjust="spacingAndGlyphs" xml:space="preserve">112</text>
<text x="821.20" y="468.00" font-size="10.50" fill="#e03a3a" textLength="6.30" lengthAdjust="spacingAndGlyphs" xml:space="preserve">B</text>
</svg>
</body></html>
